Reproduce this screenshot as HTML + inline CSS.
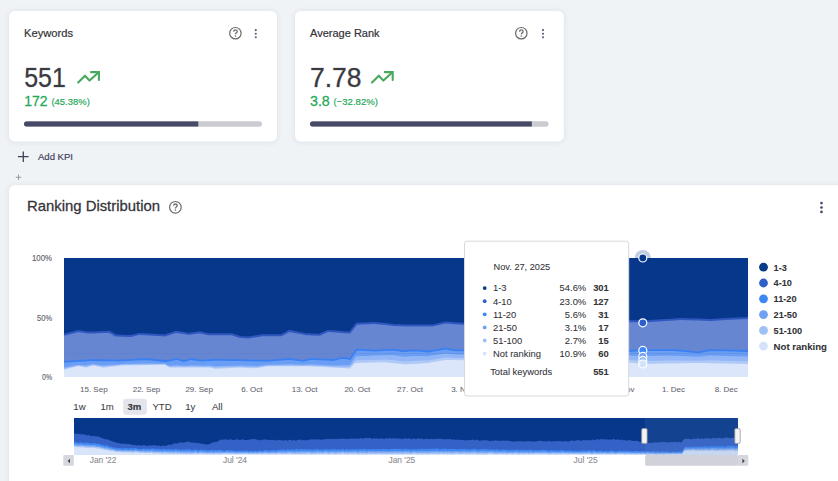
<!DOCTYPE html>
<html><head><meta charset="utf-8"><style>
html,body{margin:0;padding:0;background:#f0f3f6;overflow:hidden;width:838px;height:481px}
svg{display:block;font-family:"Liberation Sans", sans-serif}
</style></head><body>
<svg width="838" height="481" viewBox="0 0 838 481">
<defs><filter id="sh" x="-10%" y="-20%" width="120%" height="140%"><feDropShadow dx="0" dy="0.5" stdDeviation="2.5" flood-color="#3a4660" flood-opacity="0.13"/></filter>
<clipPath id="cb1"><rect x="24" y="121.2" width="238" height="5.5" rx="2.75"/></clipPath>
<clipPath id="cb2"><rect x="310" y="121.2" width="238.6" height="5.5" rx="2.75"/></clipPath></defs>
<rect width="838" height="481" fill="#f0f3f6"/>
<rect x="9" y="11" width="268" height="130.5" rx="6" fill="#fff" filter="url(#sh)"/>
<rect x="295" y="11" width="268.8" height="130.5" rx="6" fill="#fff" filter="url(#sh)"/>
<rect x="9" y="185.3" width="840" height="320" rx="6" fill="#fff" filter="url(#sh)"/>
<text x="24" y="36.8" font-size="10.8" fill="#333338" stroke="#333338" stroke-width="0.194" font-weight="400" text-anchor="start" textLength="49" lengthAdjust="spacingAndGlyphs" >Keywords</text>
<circle cx="235.4" cy="33.2" r="5.7" fill="none" stroke="#6a6a6a" stroke-width="1.2"/><path d="M233.70000000000002,31.700000000000003 Q233.70000000000002,29.900000000000002 235.4,29.900000000000002 Q237.20000000000002,29.900000000000002 237.20000000000002,31.500000000000004 Q237.20000000000002,32.6 236.1,33.1 Q235.4,33.5 235.4,34.300000000000004" fill="none" stroke="#6a6a6a" stroke-width="1.3"/><circle cx="235.4" cy="35.95" r="0.8" fill="#6a6a6a"/>
<circle cx="255.8" cy="30.1" r="1.05" fill="#58587a"/><circle cx="255.8" cy="33.7" r="1.05" fill="#58587a"/><circle cx="255.8" cy="37.300000000000004" r="1.05" fill="#58587a"/>
<text x="24.2" y="86.8" font-size="26.8" fill="#3a3a42" stroke="#3a3a42" stroke-width="0.482" font-weight="400" text-anchor="start" textLength="41.6" lengthAdjust="spacingAndGlyphs" stroke-opacity="0.6">551</text>
<g transform="translate(0.0,0)"><path d="M78.2,82.6 L85,75.7 L89.6,80.6 L98.4,72.4" fill="none" stroke="#48a85c" stroke-width="2.1" stroke-linecap="round" stroke-linejoin="round"/><path d="M91.0,72.1 L98.9,72.1 L98.9,80.0" fill="none" stroke="#48a85c" stroke-width="2.1" stroke-linecap="round" stroke-linejoin="miter"/></g>
<text x="24.2" y="105.9" font-size="14" fill="#24a857" stroke="#24a857" stroke-width="0.252" font-weight="400" text-anchor="start" textLength="23.3" lengthAdjust="spacingAndGlyphs" >172</text>
<text x="51.4" y="105.0" font-size="9.6" fill="#24a857" stroke="#24a857" stroke-width="0.173" font-weight="400" text-anchor="start" textLength="38.4" lengthAdjust="spacingAndGlyphs" >(45.38%)</text>
<rect x="24" y="121.2" width="238" height="5.5" rx="2.75" fill="#cbccd1"/>
<rect x="24" y="121.2" width="174.3" height="5.5" fill="#474a66" clip-path="url(#cb1)"/>
<text x="310" y="36.8" font-size="10.8" fill="#333338" stroke="#333338" stroke-width="0.194" font-weight="400" text-anchor="start" textLength="69.6" lengthAdjust="spacingAndGlyphs" >Average Rank</text>
<circle cx="521.3" cy="33.2" r="5.7" fill="none" stroke="#6a6a6a" stroke-width="1.2"/><path d="M519.5999999999999,31.700000000000003 Q519.5999999999999,29.900000000000002 521.3,29.900000000000002 Q523.0999999999999,29.900000000000002 523.0999999999999,31.500000000000004 Q523.0999999999999,32.6 522.0,33.1 Q521.3,33.5 521.3,34.300000000000004" fill="none" stroke="#6a6a6a" stroke-width="1.3"/><circle cx="521.3" cy="35.95" r="0.8" fill="#6a6a6a"/>
<circle cx="543" cy="30.1" r="1.05" fill="#58587a"/><circle cx="543" cy="33.7" r="1.05" fill="#58587a"/><circle cx="543" cy="37.300000000000004" r="1.05" fill="#58587a"/>
<text x="310" y="86.8" font-size="26.8" fill="#3a3a42" stroke="#3a3a42" stroke-width="0.482" font-weight="400" text-anchor="start" textLength="51.6" lengthAdjust="spacingAndGlyphs" stroke-opacity="0.6">7.78</text>
<g transform="translate(293.8,0)"><path d="M78.2,82.6 L85,75.7 L89.6,80.6 L98.4,72.4" fill="none" stroke="#48a85c" stroke-width="2.1" stroke-linecap="round" stroke-linejoin="round"/><path d="M91.0,72.1 L98.9,72.1 L98.9,80.0" fill="none" stroke="#48a85c" stroke-width="2.1" stroke-linecap="round" stroke-linejoin="miter"/></g>
<text x="310" y="105.9" font-size="14" fill="#24a857" stroke="#24a857" stroke-width="0.252" font-weight="400" text-anchor="start" textLength="19.8" lengthAdjust="spacingAndGlyphs" >3.8</text>
<text x="333.5" y="105.0" font-size="9.6" fill="#24a857" stroke="#24a857" stroke-width="0.173" font-weight="400" text-anchor="start" textLength="44.5" lengthAdjust="spacingAndGlyphs" >(−32.82%)</text>
<rect x="310" y="121.2" width="238.6" height="5.5" rx="2.75" fill="#cbccd1"/>
<rect x="310" y="121.2" width="221.8" height="5.5" fill="#474a66" clip-path="url(#cb2)"/>
<path d="M18,156.7 H28.6 M23.3,151.4 V162" stroke="#40405a" stroke-width="1.3"/>
<text x="38" y="160.2" font-size="9.6" fill="#40405a" stroke="#40405a" stroke-width="0.173" font-weight="400" text-anchor="start" textLength="35" lengthAdjust="spacingAndGlyphs" >Add KPI</text>
<path d="M15.8,177.3 H21.2 M18.5,174.6 V180" stroke="#888" stroke-width="0.8"/>
<text x="27" y="210.9" font-size="15" fill="#333338" stroke="#333338" stroke-width="0.27" font-weight="400" text-anchor="start" textLength="133" lengthAdjust="spacingAndGlyphs" >Ranking Distribution</text>
<circle cx="175.4" cy="207.3" r="5.8" fill="none" stroke="#6a6a6a" stroke-width="1.2"/><path d="M173.70000000000002,205.8 Q173.70000000000002,204.0 175.4,204.0 Q177.20000000000002,204.0 177.20000000000002,205.60000000000002 Q177.20000000000002,206.70000000000002 176.1,207.20000000000002 Q175.4,207.60000000000002 175.4,208.4" fill="none" stroke="#6a6a6a" stroke-width="1.3"/><circle cx="175.4" cy="210.05" r="0.8" fill="#6a6a6a"/>
<circle cx="821.5" cy="203.1" r="1.35" fill="#48486c"/><circle cx="821.5" cy="207.5" r="1.35" fill="#48486c"/><circle cx="821.5" cy="211.9" r="1.35" fill="#48486c"/>
<text x="52.1" y="261.2" font-size="8.6" fill="#666670" stroke="#666670" stroke-width="0.155" font-weight="400" text-anchor="end" textLength="20.1" lengthAdjust="spacingAndGlyphs" >100%</text>
<text x="52.1" y="321.3" font-size="8.6" fill="#666670" stroke="#666670" stroke-width="0.155" font-weight="400" text-anchor="end" textLength="15" lengthAdjust="spacingAndGlyphs" >50%</text>
<text x="52.1" y="379.8" font-size="8.6" fill="#666670" stroke="#666670" stroke-width="0.155" font-weight="400" text-anchor="end" textLength="10" lengthAdjust="spacingAndGlyphs" >0%</text>
<rect x="64" y="258" width="684" height="119" fill="#06378a"/>
<path d="M64.00,334.80 L78.30,331.10 L85.80,332.26 L88.00,332.60 L92.00,332.45 L93.30,332.40 L103.00,332.04 L109.40,331.80 L115.80,335.40 L118.00,335.49 L122.00,335.65 L130.90,336.00 L139.50,333.90 L146.00,334.28 L165.00,335.39 L165.20,335.40 L167.00,334.80 L169.50,333.97 L176.00,331.80 L177.00,331.96 L184.00,333.10 L188.90,333.90 L191.00,333.57 L199.60,332.20 L202.00,332.79 L208.20,334.30 L210.00,334.30 L214.60,334.30 L215.00,334.30 L231.80,334.30 L240.00,336.90 L248.20,337.50 L256.50,336.18 L262.00,335.30 L267.40,335.30 L281.20,335.30 L289.40,330.90 L303.10,333.64 L305.90,334.20 L308.60,334.30 L311.40,334.40 L319.60,334.70 L327.80,330.90 L333.30,331.30 L341.60,331.90 L345.00,332.15 L349.80,332.50 L350.00,332.24 L355.00,325.87 L356.50,323.96 L356.70,323.70 L373.60,322.94 L374.50,322.90 L385.00,324.10 L393.70,325.10 L402.30,325.36 L405.00,325.44 L410.20,325.60 L416.60,325.60 L428.00,325.60 L432.20,325.60 L445.30,322.54 L445.90,322.40 L455.30,323.15 L462.30,323.70 L464.00,323.66 L540.00,322.00 L629.00,320.90 L642.60,321.50 L665.30,320.00 L674.30,319.40 L680.00,319.02 L680.30,319.00 L698.50,319.60 L710.50,320.00 L725.60,319.00 L748.00,317.90 L748.00,377.00 L64.00,377.00 Z" fill="#6686d2" />
<path d="M64.00,361.80 L78.30,360.93 L85.80,360.48 L88.00,360.34 L92.00,360.10 L93.30,360.12 L103.00,360.27 L109.40,360.37 L115.80,360.47 L118.00,360.50 L122.00,360.29 L130.90,359.81 L139.50,359.35 L146.00,359.00 L165.00,360.99 L165.20,361.01 L167.00,361.20 L169.50,360.65 L176.00,359.22 L177.00,359.00 L184.00,361.20 L188.90,359.66 L191.00,359.00 L199.60,360.33 L202.00,360.70 L208.20,360.22 L210.00,360.08 L214.60,359.73 L215.00,359.70 L231.80,360.04 L240.00,360.20 L248.20,360.38 L256.50,360.56 L262.00,360.68 L267.40,360.80 L281.20,359.61 L289.40,358.90 L303.10,360.80 L305.90,360.16 L308.60,359.54 L311.40,358.90 L319.60,359.31 L327.80,359.72 L333.30,360.00 L341.60,358.00 L345.00,357.90 L349.80,359.24 L350.00,359.30 L355.00,351.92 L356.50,349.70 L356.70,349.71 L373.60,350.70 L374.50,350.66 L385.00,350.13 L393.70,349.70 L402.30,351.20 L405.00,351.03 L410.20,350.70 L416.60,350.30 L428.00,351.50 L432.20,350.80 L445.30,348.60 L445.90,348.70 L455.30,350.30 L462.30,350.30 L464.00,350.30 L540.00,350.62 L629.00,351.00 L642.60,350.10 L665.30,350.10 L674.30,350.10 L680.00,350.62 L680.30,350.65 L698.50,352.30 L710.50,350.10 L725.60,350.46 L748.00,351.00 L748.00,377.00 L64.00,377.00 Z" fill="#6a9ef4" />
<path d="M64.00,367.56 L78.30,364.65 L85.80,365.61 L88.00,365.12 L92.00,364.25 L93.30,363.99 L103.00,365.55 L109.40,365.07 L115.80,364.58 L118.00,364.42 L122.00,364.04 L130.90,363.80 L139.50,363.57 L146.00,363.40 L165.00,363.73 L165.20,363.83 L167.00,364.69 L169.50,365.65 L176.00,365.25 L177.00,365.19 L184.00,365.81 L188.90,365.38 L191.00,365.19 L199.60,365.56 L202.00,365.67 L208.20,365.53 L210.00,365.50 L214.60,366.19 L215.00,366.17 L231.80,365.74 L240.00,365.53 L248.20,365.79 L256.50,366.06 L262.00,365.40 L267.40,364.76 L281.20,364.43 L289.40,364.23 L303.10,364.76 L305.90,364.58 L308.60,364.41 L311.40,364.33 L319.60,364.75 L327.80,365.16 L333.30,365.44 L341.60,365.19 L345.00,365.28 L349.80,364.96 L350.00,364.81 L355.00,357.68 L356.50,356.20 L356.70,356.15 L373.60,355.66 L374.50,355.62 L385.00,355.20 L393.70,355.35 L402.30,356.62 L405.00,356.65 L410.20,356.32 L416.60,355.93 L428.00,356.33 L432.20,355.62 L445.30,353.39 L445.90,353.45 L455.30,354.42 L462.30,354.46 L464.00,354.47 L540.00,355.10 L629.00,355.83 L642.60,355.94 L665.30,355.76 L674.30,355.69 L680.00,355.94 L680.30,355.96 L698.50,356.79 L710.50,355.62 L725.60,355.96 L748.00,356.46 L748.00,377.00 L64.00,377.00 Z" fill="#92b6f6" />
<path d="M64.00,368.84 L78.30,365.48 L85.80,366.75 L88.00,366.19 L92.00,365.17 L93.30,364.85 L103.00,366.72 L109.40,366.11 L115.80,365.50 L118.00,365.29 L122.00,364.87 L130.90,364.69 L139.50,364.51 L146.00,364.38 L165.00,364.34 L165.20,364.45 L167.00,365.46 L169.50,366.77 L176.00,366.59 L177.00,366.57 L184.00,366.83 L188.90,366.65 L191.00,366.57 L199.60,366.73 L202.00,366.77 L208.20,366.71 L210.00,366.70 L214.60,367.62 L215.00,367.60 L231.80,367.00 L240.00,366.71 L248.20,367.00 L256.50,367.28 L262.00,366.45 L267.40,365.64 L281.20,365.50 L289.40,365.41 L303.10,365.64 L305.90,365.56 L308.60,365.49 L311.40,365.54 L319.60,365.95 L327.80,366.37 L333.30,366.65 L341.60,366.78 L345.00,366.92 L349.80,367.01 L350.00,366.83 L355.00,360.93 L356.50,360.35 L356.70,360.33 L373.60,359.91 L374.50,359.88 L385.00,359.55 L393.70,360.20 L402.30,361.26 L405.00,361.46 L410.20,361.14 L416.60,360.75 L428.00,360.47 L432.20,359.75 L445.30,357.49 L445.90,357.52 L455.30,357.96 L462.30,358.02 L464.00,358.04 L540.00,358.93 L629.00,359.97 L642.60,360.94 L665.30,360.61 L674.30,360.48 L680.00,360.51 L680.30,360.51 L698.50,360.65 L710.50,360.35 L725.60,360.67 L748.00,361.14 L748.00,377.00 L64.00,377.00 Z" fill="#b0caf7" />
<path d="M64.00,369.80 L78.30,366.10 L85.80,367.60 L88.00,366.98 L92.00,365.86 L93.30,365.50 L103.00,367.60 L109.40,366.89 L115.80,366.19 L118.00,365.94 L122.00,365.50 L130.90,365.36 L139.50,365.22 L146.00,365.11 L165.00,364.80 L165.20,364.92 L167.00,366.04 L169.50,367.60 L176.00,367.60 L177.00,367.60 L184.00,367.60 L188.90,367.60 L191.00,367.60 L199.60,367.60 L202.00,367.60 L208.20,367.60 L210.00,367.60 L214.60,368.70 L215.00,368.68 L231.80,367.96 L240.00,367.60 L248.20,367.90 L256.50,368.20 L262.00,367.24 L267.40,366.30 L281.20,366.30 L289.40,366.30 L303.10,366.30 L305.90,366.30 L308.60,366.30 L311.40,366.44 L319.60,366.86 L327.80,367.28 L333.30,367.56 L341.60,367.98 L345.00,368.16 L349.80,368.40 L350.00,368.19 L355.00,363.00 L356.50,362.96 L356.70,362.95 L373.60,362.50 L374.50,362.48 L385.00,362.20 L393.70,363.16 L402.30,364.10 L405.00,364.40 L410.20,364.08 L416.60,363.69 L428.00,363.00 L432.20,362.27 L445.30,360.00 L445.90,360.01 L455.30,360.12 L462.30,360.20 L464.00,360.22 L540.00,361.27 L629.00,362.50 L642.60,364.00 L665.30,363.58 L674.30,363.41 L680.00,363.30 L680.30,363.30 L698.50,363.00 L710.50,363.24 L725.60,363.55 L748.00,364.00 L748.00,377.00 L64.00,377.00 Z" fill="#dbe6fb" />
<line x1="64" x2="748" y1="353.5" y2="353.5" stroke="#5a78c0" stroke-width="0.6" opacity="0.5"/>
<path d="M64.00,334.80 L78.30,331.10 L85.80,332.26 L88.00,332.60 L92.00,332.45 L93.30,332.40 L103.00,332.04 L109.40,331.80 L115.80,335.40 L118.00,335.49 L122.00,335.65 L130.90,336.00 L139.50,333.90 L146.00,334.28 L165.00,335.39 L165.20,335.40 L167.00,334.80 L169.50,333.97 L176.00,331.80 L177.00,331.96 L184.00,333.10 L188.90,333.90 L191.00,333.57 L199.60,332.20 L202.00,332.79 L208.20,334.30 L210.00,334.30 L214.60,334.30 L215.00,334.30 L231.80,334.30 L240.00,336.90 L248.20,337.50 L256.50,336.18 L262.00,335.30 L267.40,335.30 L281.20,335.30 L289.40,330.90 L303.10,333.64 L305.90,334.20 L308.60,334.30 L311.40,334.40 L319.60,334.70 L327.80,330.90 L333.30,331.30 L341.60,331.90 L345.00,332.15 L349.80,332.50 L350.00,332.24 L355.00,325.87 L356.50,323.96 L356.70,323.70 L373.60,322.94 L374.50,322.90 L385.00,324.10 L393.70,325.10 L402.30,325.36 L405.00,325.44 L410.20,325.60 L416.60,325.60 L428.00,325.60 L432.20,325.60 L445.30,322.54 L445.90,322.40 L455.30,323.15 L462.30,323.70 L464.00,323.66 L540.00,322.00 L629.00,320.90 L642.60,321.50 L665.30,320.00 L674.30,319.40 L680.00,319.02 L680.30,319.00 L698.50,319.60 L710.50,320.00 L725.60,319.00 L748.00,317.90" fill="none" stroke="#2f57bf" stroke-width="2"/>
<path d="M64.00,361.80 L78.30,360.93 L85.80,360.48 L88.00,360.34 L92.00,360.10 L93.30,360.12 L103.00,360.27 L109.40,360.37 L115.80,360.47 L118.00,360.50 L122.00,360.29 L130.90,359.81 L139.50,359.35 L146.00,359.00 L165.00,360.99 L165.20,361.01 L167.00,361.20 L169.50,360.65 L176.00,359.22 L177.00,359.00 L184.00,361.20 L188.90,359.66 L191.00,359.00 L199.60,360.33 L202.00,360.70 L208.20,360.22 L210.00,360.08 L214.60,359.73 L215.00,359.70 L231.80,360.04 L240.00,360.20 L248.20,360.38 L256.50,360.56 L262.00,360.68 L267.40,360.80 L281.20,359.61 L289.40,358.90 L303.10,360.80 L305.90,360.16 L308.60,359.54 L311.40,358.90 L319.60,359.31 L327.80,359.72 L333.30,360.00 L341.60,358.00 L345.00,357.90 L349.80,359.24 L350.00,359.30 L355.00,351.92 L356.50,349.70 L356.70,349.71 L373.60,350.70 L374.50,350.66 L385.00,350.13 L393.70,349.70 L402.30,351.20 L405.00,351.03 L410.20,350.70 L416.60,350.30 L428.00,351.50 L432.20,350.80 L445.30,348.60 L445.90,348.70 L455.30,350.30 L462.30,350.30 L464.00,350.30 L540.00,350.62 L629.00,351.00 L642.60,350.10 L665.30,350.10 L674.30,350.10 L680.00,350.62 L680.30,350.65 L698.50,352.30 L710.50,350.10 L725.60,350.46 L748.00,351.00" fill="none" stroke="#3a80f2" stroke-width="1.8"/>
<text x="93.8" y="391.9" font-size="8" fill="#666670" stroke="#666670" stroke-width="0.144" font-weight="400" text-anchor="middle" stroke-opacity="0.5">15. Sep</text>
<text x="146.5" y="391.9" font-size="8" fill="#666670" stroke="#666670" stroke-width="0.144" font-weight="400" text-anchor="middle" stroke-opacity="0.5">22. Sep</text>
<text x="199.2" y="391.9" font-size="8" fill="#666670" stroke="#666670" stroke-width="0.144" font-weight="400" text-anchor="middle" stroke-opacity="0.5">29. Sep</text>
<text x="251.9" y="391.9" font-size="8" fill="#666670" stroke="#666670" stroke-width="0.144" font-weight="400" text-anchor="middle" stroke-opacity="0.5">6. Oct</text>
<text x="304.6" y="391.9" font-size="8" fill="#666670" stroke="#666670" stroke-width="0.144" font-weight="400" text-anchor="middle" stroke-opacity="0.5">13. Oct</text>
<text x="357.3" y="391.9" font-size="8" fill="#666670" stroke="#666670" stroke-width="0.144" font-weight="400" text-anchor="middle" stroke-opacity="0.5">20. Oct</text>
<text x="410.0" y="391.9" font-size="8" fill="#666670" stroke="#666670" stroke-width="0.144" font-weight="400" text-anchor="middle" stroke-opacity="0.5">27. Oct</text>
<text x="462.7" y="391.9" font-size="8" fill="#666670" stroke="#666670" stroke-width="0.144" font-weight="400" text-anchor="middle" stroke-opacity="0.5">3. Nov</text>
<text x="515.4" y="391.9" font-size="8" fill="#666670" stroke="#666670" stroke-width="0.144" font-weight="400" text-anchor="middle" stroke-opacity="0.5">10. Nov</text>
<text x="568.1" y="391.9" font-size="8" fill="#666670" stroke="#666670" stroke-width="0.144" font-weight="400" text-anchor="middle" stroke-opacity="0.5">17. Nov</text>
<text x="620.8" y="391.9" font-size="8" fill="#666670" stroke="#666670" stroke-width="0.144" font-weight="400" text-anchor="middle" stroke-opacity="0.5">24. Nov</text>
<text x="673.5" y="391.9" font-size="8" fill="#666670" stroke="#666670" stroke-width="0.144" font-weight="400" text-anchor="middle" stroke-opacity="0.5">1. Dec</text>
<text x="726.2" y="391.9" font-size="8" fill="#666670" stroke="#666670" stroke-width="0.144" font-weight="400" text-anchor="middle" stroke-opacity="0.5">8. Dec</text>
<circle cx="642.8" cy="258" r="8" fill="#06378a" opacity="0.25"/>
<circle cx="642.8" cy="258" r="4" fill="#06378a" stroke="#fff" stroke-width="1.2"/>
<circle cx="642.8" cy="322.8" r="4" fill="#2e5ec9" stroke="#fff" stroke-width="1.2"/>
<circle cx="642.8" cy="350.4" r="4" fill="#3d86f5" stroke="#fff" stroke-width="1.2"/>
<circle cx="642.8" cy="356.4" r="4" fill="#6fa0f3" stroke="#fff" stroke-width="1.2"/>
<circle cx="642.8" cy="360.4" r="4" fill="#9dc0f5" stroke="#fff" stroke-width="1.2"/>
<circle cx="642.8" cy="364.0" r="4" fill="#d5e3fa" stroke="#fff" stroke-width="1.2"/>
<circle cx="763.5" cy="267.2" r="4.4" fill="#0a3a8a"/>
<text x="773.6" y="270.5" font-size="9.2" fill="#333338" stroke="#333338" stroke-width="0.074" font-weight="700" text-anchor="start" >1-3</text>
<circle cx="763.5" cy="283.0" r="4.4" fill="#2e5ec9"/>
<text x="773.6" y="286.3" font-size="9.2" fill="#333338" stroke="#333338" stroke-width="0.074" font-weight="700" text-anchor="start" >4-10</text>
<circle cx="763.5" cy="298.8" r="4.4" fill="#3d86f5"/>
<text x="773.6" y="302.1" font-size="9.2" fill="#333338" stroke="#333338" stroke-width="0.074" font-weight="700" text-anchor="start" >11-20</text>
<circle cx="763.5" cy="314.6" r="4.4" fill="#6fa0f2"/>
<text x="773.6" y="317.90000000000003" font-size="9.2" fill="#333338" stroke="#333338" stroke-width="0.074" font-weight="700" text-anchor="start" >21-50</text>
<circle cx="763.5" cy="330.4" r="4.4" fill="#9dc0f5"/>
<text x="773.6" y="333.7" font-size="9.2" fill="#333338" stroke="#333338" stroke-width="0.074" font-weight="700" text-anchor="start" >51-100</text>
<circle cx="763.5" cy="346.2" r="4.4" fill="#d5e3fa"/>
<text x="773.6" y="349.5" font-size="9.2" fill="#333338" stroke="#333338" stroke-width="0.074" font-weight="700" text-anchor="start" textLength="53.4" lengthAdjust="spacingAndGlyphs" >Not ranking</text>
<rect x="464.5" y="241.2" width="164.2" height="154.8" rx="2.5" fill="#fff" stroke="#d8d8e0" stroke-width="1"/>
<text x="493.6" y="269.8" font-size="9.4" fill="#333338" stroke="#333338" stroke-width="0.169" font-weight="400" text-anchor="start" textLength="56.6" lengthAdjust="spacingAndGlyphs" stroke-opacity="0.45">Nov. 27, 2025</text>
<circle cx="484.7" cy="288.1" r="1.9" fill="#0a3a8a"/>
<text x="493" y="291.40000000000003" font-size="9.4" fill="#333338" stroke="#333338" stroke-width="0.169" font-weight="400" text-anchor="start" stroke-opacity="0.45">1-3</text>
<text x="586.2" y="291.40000000000003" font-size="9.4" fill="#333338" stroke="#333338" stroke-width="0.169" font-weight="400" text-anchor="end" stroke-opacity="0.45">54.6%</text>
<text x="608.8" y="291.40000000000003" font-size="9.4" fill="#333338" stroke="#333338" stroke-width="0.075" font-weight="700" text-anchor="end" >301</text>
<circle cx="484.7" cy="301.20000000000005" r="1.9" fill="#2e5ec9"/>
<text x="493" y="304.50000000000006" font-size="9.4" fill="#333338" stroke="#333338" stroke-width="0.169" font-weight="400" text-anchor="start" stroke-opacity="0.45">4-10</text>
<text x="586.2" y="304.50000000000006" font-size="9.4" fill="#333338" stroke="#333338" stroke-width="0.169" font-weight="400" text-anchor="end" stroke-opacity="0.45">23.0%</text>
<text x="608.8" y="304.50000000000006" font-size="9.4" fill="#333338" stroke="#333338" stroke-width="0.075" font-weight="700" text-anchor="end" >127</text>
<circle cx="484.7" cy="314.3" r="1.9" fill="#3d86f5"/>
<text x="493" y="317.6" font-size="9.4" fill="#333338" stroke="#333338" stroke-width="0.169" font-weight="400" text-anchor="start" stroke-opacity="0.45">11-20</text>
<text x="586.2" y="317.6" font-size="9.4" fill="#333338" stroke="#333338" stroke-width="0.169" font-weight="400" text-anchor="end" stroke-opacity="0.45">5.6%</text>
<text x="608.8" y="317.6" font-size="9.4" fill="#333338" stroke="#333338" stroke-width="0.075" font-weight="700" text-anchor="end" >31</text>
<circle cx="484.7" cy="327.40000000000003" r="1.9" fill="#6fa0f2"/>
<text x="493" y="330.70000000000005" font-size="9.4" fill="#333338" stroke="#333338" stroke-width="0.169" font-weight="400" text-anchor="start" stroke-opacity="0.45">21-50</text>
<text x="586.2" y="330.70000000000005" font-size="9.4" fill="#333338" stroke="#333338" stroke-width="0.169" font-weight="400" text-anchor="end" stroke-opacity="0.45">3.1%</text>
<text x="608.8" y="330.70000000000005" font-size="9.4" fill="#333338" stroke="#333338" stroke-width="0.075" font-weight="700" text-anchor="end" >17</text>
<circle cx="484.7" cy="340.5" r="1.9" fill="#9dc0f5"/>
<text x="493" y="343.8" font-size="9.4" fill="#333338" stroke="#333338" stroke-width="0.169" font-weight="400" text-anchor="start" stroke-opacity="0.45">51-100</text>
<text x="586.2" y="343.8" font-size="9.4" fill="#333338" stroke="#333338" stroke-width="0.169" font-weight="400" text-anchor="end" stroke-opacity="0.45">2.7%</text>
<text x="608.8" y="343.8" font-size="9.4" fill="#333338" stroke="#333338" stroke-width="0.075" font-weight="700" text-anchor="end" >15</text>
<circle cx="484.7" cy="353.6" r="1.9" fill="#d5e3fa"/>
<text x="493" y="356.90000000000003" font-size="9.4" fill="#333338" stroke="#333338" stroke-width="0.169" font-weight="400" text-anchor="start" stroke-opacity="0.45">Not ranking</text>
<text x="586.2" y="356.90000000000003" font-size="9.4" fill="#333338" stroke="#333338" stroke-width="0.169" font-weight="400" text-anchor="end" stroke-opacity="0.45">10.9%</text>
<text x="608.8" y="356.90000000000003" font-size="9.4" fill="#333338" stroke="#333338" stroke-width="0.075" font-weight="700" text-anchor="end" >60</text>
<text x="490.2" y="374.7" font-size="9.4" fill="#333338" stroke="#333338" stroke-width="0.169" font-weight="400" text-anchor="start" stroke-opacity="0.45">Total keywords</text>
<text x="608.8" y="374.7" font-size="9.4" fill="#333338" stroke="#333338" stroke-width="0.075" font-weight="700" text-anchor="end" >551</text>
<rect x="123.2" y="398.8" width="23.6" height="15.9" rx="3" fill="#e4e4ec"/>
<text x="79.5" y="410.1" font-size="9.6" fill="#3c3c44" stroke="#3c3c44" stroke-width="0.173" font-weight="400" text-anchor="middle" stroke-opacity="0.35">1w</text>
<text x="107.1" y="410.1" font-size="9.6" fill="#3c3c44" stroke="#3c3c44" stroke-width="0.173" font-weight="400" text-anchor="middle" stroke-opacity="0.35">1m</text>
<text x="134.4" y="410.1" font-size="9.6" fill="#333338" stroke="#333338" stroke-width="0.077" font-weight="700" text-anchor="middle" >3m</text>
<text x="162" y="410.1" font-size="9.6" fill="#3c3c44" stroke="#3c3c44" stroke-width="0.173" font-weight="400" text-anchor="middle" stroke-opacity="0.35">YTD</text>
<text x="190.2" y="410.1" font-size="9.6" fill="#3c3c44" stroke="#3c3c44" stroke-width="0.173" font-weight="400" text-anchor="middle" stroke-opacity="0.35">1y</text>
<text x="217.3" y="410.1" font-size="9.6" fill="#3c3c44" stroke="#3c3c44" stroke-width="0.173" font-weight="400" text-anchor="middle" stroke-opacity="0.35">All</text>
<rect x="74" y="418" width="664" height="37" fill="#06378a"/>
<path d="M74.00,433.49 L75.00,433.40 L76.00,434.11 L77.00,433.54 L78.00,434.21 L79.00,434.12 L80.00,433.87 L81.00,434.53 L82.00,434.08 L83.00,434.67 L84.00,434.35 L85.00,434.49 L86.00,435.01 L87.00,435.61 L88.00,434.88 L89.00,435.12 L90.00,435.72 L91.00,436.22 L92.00,435.89 L93.00,435.79 L94.00,436.60 L95.00,435.60 L96.00,436.70 L97.00,436.27 L98.00,436.41 L99.00,436.69 L100.00,437.23 L101.00,438.16 L102.00,437.71 L103.00,438.50 L104.00,438.89 L105.00,438.88 L106.00,439.41 L107.00,439.14 L108.00,439.45 L109.00,439.94 L110.00,440.82 L111.00,440.83 L112.00,441.01 L113.00,441.65 L114.00,441.81 L115.00,441.94 L116.00,442.84 L117.00,443.04 L118.00,442.67 L119.00,443.18 L120.00,443.24 L121.00,443.77 L122.00,443.71 L123.00,443.30 L124.00,444.25 L125.00,443.33 L126.00,443.80 L127.00,444.32 L128.00,443.71 L129.00,444.23 L130.00,443.80 L131.00,444.67 L132.00,444.90 L133.00,444.79 L134.00,445.27 L135.00,444.71 L136.00,445.25 L137.00,445.17 L138.00,445.19 L139.00,445.08 L140.00,445.58 L141.00,445.74 L142.00,445.21 L143.00,445.48 L144.00,444.79 L145.00,445.60 L146.00,445.57 L147.00,446.03 L148.00,445.86 L149.00,445.25 L150.00,445.41 L151.00,445.79 L152.00,445.05 L153.00,445.62 L154.00,445.30 L155.00,445.28 L156.00,445.25 L157.00,446.14 L158.00,445.41 L159.00,445.59 L160.00,445.80 L161.00,446.41 L162.00,445.48 L163.00,445.75 L164.00,445.71 L165.00,445.94 L166.00,445.69 L167.00,445.58 L168.00,444.71 L169.00,444.71 L170.00,444.47 L171.00,444.93 L172.00,444.85 L173.00,443.72 L174.00,443.58 L175.00,443.48 L176.00,443.31 L177.00,443.45 L178.00,443.40 L179.00,442.84 L180.00,442.37 L181.00,442.70 L182.00,442.47 L183.00,442.54 L184.00,442.83 L185.00,442.35 L186.00,441.97 L187.00,441.93 L188.00,441.83 L189.00,441.23 L190.00,442.43 L191.00,442.47 L192.00,442.77 L193.00,442.86 L194.00,442.56 L195.00,442.75 L196.00,442.58 L197.00,443.41 L198.00,442.90 L199.00,443.09 L200.00,443.45 L201.00,443.58 L202.00,443.98 L203.00,443.82 L204.00,443.94 L205.00,444.30 L206.00,444.43 L207.00,444.67 L208.00,443.93 L209.00,444.61 L210.00,443.96 L211.00,443.07 L212.00,442.86 L213.00,442.64 L214.00,442.32 L215.00,441.70 L216.00,442.23 L217.00,442.07 L218.00,441.10 L219.00,440.79 L220.00,439.97 L221.00,439.66 L222.00,439.61 L223.00,439.41 L224.00,440.08 L225.00,439.28 L226.00,439.10 L227.00,440.21 L228.00,439.70 L229.00,439.23 L230.00,439.70 L231.00,439.08 L232.00,439.67 L233.00,440.21 L234.00,440.06 L235.00,439.85 L236.00,439.33 L237.00,439.45 L238.00,439.20 L239.00,439.92 L240.00,439.63 L241.00,439.92 L242.00,439.37 L243.00,439.24 L244.00,439.94 L245.00,440.14 L246.00,439.97 L247.00,439.91 L248.00,439.92 L249.00,439.82 L250.00,439.20 L251.00,439.54 L252.00,439.34 L253.00,438.94 L254.00,438.94 L255.00,439.26 L256.00,439.26 L257.00,439.80 L258.00,440.14 L259.00,439.55 L260.00,440.16 L261.00,440.24 L262.00,440.23 L263.00,439.54 L264.00,439.39 L265.00,439.42 L266.00,439.41 L267.00,439.44 L268.00,439.96 L269.00,440.32 L270.00,440.27 L271.00,439.86 L272.00,440.09 L273.00,440.28 L274.00,439.45 L275.00,440.16 L276.00,440.48 L277.00,440.35 L278.00,440.33 L279.00,440.03 L280.00,439.69 L281.00,440.45 L282.00,439.92 L283.00,440.51 L284.00,440.73 L285.00,440.06 L286.00,440.09 L287.00,440.77 L288.00,440.53 L289.00,439.88 L290.00,439.85 L291.00,439.85 L292.00,440.73 L293.00,440.58 L294.00,439.76 L295.00,440.55 L296.00,440.70 L297.00,440.29 L298.00,439.89 L299.00,440.10 L300.00,439.57 L301.00,439.40 L302.00,440.52 L303.00,440.11 L304.00,439.93 L305.00,440.39 L306.00,439.76 L307.00,440.26 L308.00,440.18 L309.00,439.41 L310.00,439.43 L311.00,439.45 L312.00,439.36 L313.00,439.75 L314.00,439.33 L315.00,439.49 L316.00,439.11 L317.00,440.02 L318.00,439.32 L319.00,439.42 L320.00,439.54 L321.00,439.90 L322.00,439.29 L323.00,439.86 L324.00,439.33 L325.00,439.34 L326.00,439.30 L327.00,438.67 L328.00,439.14 L329.00,438.81 L330.00,438.56 L331.00,439.49 L332.00,438.71 L333.00,439.04 L334.00,439.31 L335.00,439.08 L336.00,438.78 L337.00,438.98 L338.00,439.00 L339.00,439.24 L340.00,438.40 L341.00,438.92 L342.00,438.51 L343.00,438.52 L344.00,439.08 L345.00,438.74 L346.00,438.77 L347.00,438.98 L348.00,439.14 L349.00,438.55 L350.00,438.72 L351.00,438.56 L352.00,438.54 L353.00,438.73 L354.00,438.41 L355.00,438.48 L356.00,438.39 L357.00,438.92 L358.00,438.60 L359.00,438.78 L360.00,438.83 L361.00,437.98 L362.00,438.31 L363.00,438.75 L364.00,438.61 L365.00,437.78 L366.00,437.78 L367.00,438.17 L368.00,437.74 L369.00,437.95 L370.00,437.76 L371.00,438.49 L372.00,438.64 L373.00,438.79 L374.00,437.91 L375.00,438.59 L376.00,438.54 L377.00,437.93 L378.00,438.83 L379.00,438.94 L380.00,438.06 L381.00,438.95 L382.00,438.29 L383.00,438.41 L384.00,439.03 L385.00,438.85 L386.00,438.06 L387.00,438.39 L388.00,438.51 L389.00,438.31 L390.00,438.15 L391.00,438.30 L392.00,438.80 L393.00,437.97 L394.00,438.62 L395.00,438.50 L396.00,438.00 L397.00,438.39 L398.00,438.75 L399.00,438.63 L400.00,438.10 L401.00,439.22 L402.00,439.00 L403.00,439.23 L404.00,438.20 L405.00,438.40 L406.00,438.15 L407.00,439.04 L408.00,438.45 L409.00,438.29 L410.00,438.65 L411.00,439.25 L412.00,439.15 L413.00,438.49 L414.00,438.37 L415.00,439.31 L416.00,438.90 L417.00,439.07 L418.00,438.35 L419.00,438.32 L420.00,439.09 L421.00,438.78 L422.00,438.37 L423.00,439.42 L424.00,439.07 L425.00,439.28 L426.00,438.43 L427.00,439.37 L428.00,438.44 L429.00,439.40 L430.00,438.92 L431.00,438.80 L432.00,439.07 L433.00,439.55 L434.00,438.78 L435.00,438.65 L436.00,439.15 L437.00,438.83 L438.00,438.71 L439.00,438.80 L440.00,438.69 L441.00,438.90 L442.00,439.06 L443.00,439.08 L444.00,439.65 L445.00,439.12 L446.00,439.40 L447.00,439.04 L448.00,439.27 L449.00,438.91 L450.00,439.21 L451.00,438.96 L452.00,439.85 L453.00,439.66 L454.00,439.25 L455.00,439.62 L456.00,440.20 L457.00,439.24 L458.00,440.12 L459.00,439.68 L460.00,439.79 L461.00,440.22 L462.00,439.72 L463.00,439.89 L464.00,440.13 L465.00,440.51 L466.00,439.77 L467.00,440.39 L468.00,440.27 L469.00,440.21 L470.00,439.96 L471.00,439.92 L472.00,439.60 L473.00,439.71 L474.00,439.67 L475.00,440.50 L476.00,439.95 L477.00,439.87 L478.00,439.80 L479.00,440.74 L480.00,440.80 L481.00,440.59 L482.00,440.15 L483.00,440.13 L484.00,440.22 L485.00,440.45 L486.00,440.11 L487.00,440.49 L488.00,440.30 L489.00,441.16 L490.00,441.20 L491.00,440.72 L492.00,440.39 L493.00,441.28 L494.00,440.52 L495.00,440.61 L496.00,440.21 L497.00,440.69 L498.00,440.83 L499.00,440.89 L500.00,440.56 L501.00,440.95 L502.00,440.38 L503.00,440.72 L504.00,440.54 L505.00,440.94 L506.00,440.54 L507.00,440.54 L508.00,440.91 L509.00,440.85 L510.00,441.30 L511.00,441.24 L512.00,441.50 L513.00,441.39 L514.00,441.46 L515.00,441.65 L516.00,441.07 L517.00,440.99 L518.00,441.78 L519.00,440.78 L520.00,441.47 L521.00,441.37 L522.00,440.65 L523.00,441.60 L524.00,441.67 L525.00,441.35 L526.00,441.48 L527.00,441.57 L528.00,440.77 L529.00,441.23 L530.00,441.21 L531.00,441.60 L532.00,441.57 L533.00,441.59 L534.00,441.30 L535.00,441.67 L536.00,441.42 L537.00,441.43 L538.00,440.88 L539.00,440.64 L540.00,440.76 L541.00,441.03 L542.00,440.73 L543.00,441.60 L544.00,441.27 L545.00,441.35 L546.00,441.35 L547.00,441.42 L548.00,441.19 L549.00,440.60 L550.00,441.56 L551.00,441.50 L552.00,441.20 L553.00,441.24 L554.00,441.39 L555.00,440.68 L556.00,441.48 L557.00,440.90 L558.00,440.69 L559.00,440.92 L560.00,441.48 L561.00,440.85 L562.00,441.49 L563.00,441.77 L564.00,441.19 L565.00,441.06 L566.00,441.17 L567.00,441.42 L568.00,441.48 L569.00,441.25 L570.00,441.23 L571.00,440.49 L572.00,440.52 L573.00,440.60 L574.00,441.13 L575.00,440.55 L576.00,440.81 L577.00,440.09 L578.00,440.10 L579.00,440.29 L580.00,440.72 L581.00,440.69 L582.00,440.62 L583.00,440.10 L584.00,440.32 L585.00,440.21 L586.00,440.15 L587.00,439.68 L588.00,440.56 L589.00,439.67 L590.00,440.55 L591.00,440.45 L592.00,439.29 L593.00,439.77 L594.00,440.15 L595.00,440.27 L596.00,439.60 L597.00,439.33 L598.00,439.20 L599.00,440.03 L600.00,439.09 L601.00,439.49 L602.00,438.90 L603.00,439.31 L604.00,439.77 L605.00,438.78 L606.00,439.65 L607.00,439.32 L608.00,439.81 L609.00,439.64 L610.00,439.11 L611.00,439.95 L612.00,439.50 L613.00,438.99 L614.00,439.01 L615.00,439.64 L616.00,439.63 L617.00,439.50 L618.00,439.34 L619.00,439.63 L620.00,439.64 L621.00,440.31 L622.00,439.35 L623.00,440.29 L624.00,440.44 L625.00,439.62 L626.00,440.63 L627.00,440.41 L628.00,440.68 L629.00,439.99 L630.00,440.13 L631.00,440.28 L632.00,441.17 L633.00,440.84 L634.00,440.73 L635.00,440.97 L636.00,440.95 L637.00,440.84 L638.00,441.06 L639.00,442.10 L640.00,441.60 L641.00,442.54 L642.00,441.88 L643.00,442.06 L644.00,442.52 L645.00,442.22 L646.00,442.43 L647.00,443.11 L648.00,443.01 L649.00,442.90 L650.00,442.67 L651.00,442.99 L652.00,443.01 L653.00,442.52 L654.00,442.71 L655.00,441.89 L656.00,442.69 L657.00,442.34 L658.00,442.69 L659.00,442.54 L660.00,442.10 L661.00,441.79 L662.00,442.83 L663.00,441.86 L664.00,442.25 L665.00,442.08 L666.00,442.01 L667.00,442.53 L668.00,442.79 L669.00,441.92 L670.00,442.38 L671.00,441.94 L672.00,442.23 L673.00,442.02 L674.00,441.73 L675.00,441.70 L676.00,441.74 L677.00,442.56 L678.00,442.06 L679.00,441.71 L680.00,442.52 L681.00,442.61 L682.00,441.75 L683.00,440.41 L684.00,439.51 L685.00,438.70 L686.00,438.96 L687.00,438.63 L688.00,438.77 L689.00,438.76 L690.00,439.10 L691.00,439.44 L692.00,439.24 L693.00,438.81 L694.00,438.77 L695.00,438.87 L696.00,438.66 L697.00,438.58 L698.00,438.21 L699.00,438.43 L700.00,439.23 L701.00,438.18 L702.00,438.60 L703.00,438.72 L704.00,438.96 L705.00,438.15 L706.00,438.18 L707.00,438.12 L708.00,438.27 L709.00,438.29 L710.00,438.86 L711.00,438.70 L712.00,438.70 L713.00,437.65 L714.00,437.64 L715.00,438.42 L716.00,438.61 L717.00,438.08 L718.00,438.19 L719.00,437.45 L720.00,437.89 L721.00,438.51 L722.00,438.36 L723.00,438.36 L724.00,438.47 L725.00,437.58 L726.00,437.38 L727.00,437.41 L728.00,437.82 L729.00,437.98 L730.00,438.26 L731.00,437.97 L732.00,437.85 L733.00,437.96 L734.00,437.57 L735.00,437.65 L736.00,437.01 L737.00,437.87 L738.00,437.18 L738.00,438.00 L738.00,455.00 L74.00,455.00 Z" fill="#3461c6" />
<path d="M74.00,442.55 L75.00,442.25 L76.00,442.12 L77.00,442.29 L78.00,442.72 L79.00,442.82 L80.00,442.28 L81.00,442.28 L82.00,442.78 L83.00,442.89 L84.00,442.74 L85.00,442.62 L86.00,443.04 L87.00,442.49 L88.00,442.83 L89.00,443.03 L90.00,443.58 L91.00,443.31 L92.00,443.59 L93.00,443.23 L94.00,443.03 L95.00,443.09 L96.00,443.85 L97.00,443.76 L98.00,443.59 L99.00,443.53 L100.00,444.23 L101.00,444.63 L102.00,444.60 L103.00,444.66 L104.00,445.29 L105.00,445.77 L106.00,445.30 L107.00,445.33 L108.00,445.86 L109.00,446.16 L110.00,446.65 L111.00,446.39 L112.00,447.21 L113.00,447.38 L114.00,447.37 L115.00,447.29 L116.00,448.28 L117.00,447.84 L118.00,448.43 L119.00,447.87 L120.00,447.88 L121.00,448.44 L122.00,447.99 L123.00,448.67 L124.00,448.23 L125.00,447.95 L126.00,448.00 L127.00,448.22 L128.00,448.49 L129.00,448.79 L130.00,448.01 L131.00,448.28 L132.00,448.12 L133.00,448.90 L134.00,448.09 L135.00,448.02 L136.00,448.05 L137.00,448.40 L138.00,448.93 L139.00,448.93 L140.00,448.80 L141.00,449.09 L142.00,449.04 L143.00,448.46 L144.00,448.34 L145.00,449.11 L146.00,448.94 L147.00,448.25 L148.00,448.90 L149.00,448.64 L150.00,448.65 L151.00,448.63 L152.00,448.49 L153.00,448.34 L154.00,448.64 L155.00,448.73 L156.00,449.36 L157.00,448.55 L158.00,449.41 L159.00,448.67 L160.00,448.84 L161.00,449.33 L162.00,449.35 L163.00,448.98 L164.00,448.62 L165.00,449.06 L166.00,448.98 L167.00,449.55 L168.00,448.84 L169.00,449.04 L170.00,449.59 L171.00,448.74 L172.00,449.14 L173.00,449.57 L174.00,449.54 L175.00,448.84 L176.00,448.85 L177.00,448.90 L178.00,449.78 L179.00,449.14 L180.00,449.65 L181.00,449.82 L182.00,449.28 L183.00,449.23 L184.00,449.94 L185.00,449.62 L186.00,449.28 L187.00,449.76 L188.00,449.38 L189.00,449.36 L190.00,449.10 L191.00,449.88 L192.00,450.06 L193.00,449.79 L194.00,450.12 L195.00,449.22 L196.00,449.45 L197.00,449.72 L198.00,450.22 L199.00,450.23 L200.00,449.69 L201.00,449.57 L202.00,449.77 L203.00,449.85 L204.00,450.31 L205.00,449.58 L206.00,450.22 L207.00,450.18 L208.00,450.28 L209.00,450.25 L210.00,450.11 L211.00,449.85 L212.00,449.86 L213.00,449.92 L214.00,450.36 L215.00,449.68 L216.00,449.82 L217.00,450.39 L218.00,449.91 L219.00,449.74 L220.00,449.73 L221.00,450.27 L222.00,450.07 L223.00,450.74 L224.00,450.66 L225.00,450.79 L226.00,450.08 L227.00,449.92 L228.00,449.96 L229.00,450.38 L230.00,450.61 L231.00,450.37 L232.00,450.17 L233.00,450.38 L234.00,450.60 L235.00,450.67 L236.00,450.77 L237.00,450.89 L238.00,450.72 L239.00,450.20 L240.00,450.94 L241.00,450.41 L242.00,450.71 L243.00,450.53 L244.00,450.92 L245.00,450.40 L246.00,450.47 L247.00,450.49 L248.00,450.41 L249.00,451.16 L250.00,450.88 L251.00,450.60 L252.00,450.64 L253.00,451.21 L254.00,450.70 L255.00,450.39 L256.00,450.94 L257.00,450.76 L258.00,451.07 L259.00,450.15 L260.00,450.49 L261.00,450.81 L262.00,450.80 L263.00,450.85 L264.00,449.95 L265.00,450.17 L266.00,449.97 L267.00,450.01 L268.00,450.77 L269.00,450.35 L270.00,450.67 L271.00,450.08 L272.00,450.55 L273.00,450.11 L274.00,449.89 L275.00,450.38 L276.00,450.52 L277.00,449.65 L278.00,450.11 L279.00,450.11 L280.00,449.68 L281.00,449.80 L282.00,449.55 L283.00,449.58 L284.00,449.60 L285.00,449.92 L286.00,449.94 L287.00,449.47 L288.00,449.25 L289.00,449.54 L290.00,449.86 L291.00,449.34 L292.00,449.44 L293.00,449.30 L294.00,449.86 L295.00,449.59 L296.00,449.08 L297.00,449.09 L298.00,449.35 L299.00,449.48 L300.00,449.54 L301.00,448.99 L302.00,449.06 L303.00,449.58 L304.00,449.29 L305.00,449.16 L306.00,449.18 L307.00,449.83 L308.00,449.18 L309.00,449.43 L310.00,449.22 L311.00,449.27 L312.00,449.72 L313.00,449.84 L314.00,449.21 L315.00,449.04 L316.00,449.56 L317.00,449.04 L318.00,448.83 L319.00,449.73 L320.00,449.24 L321.00,449.64 L322.00,449.22 L323.00,449.69 L324.00,449.26 L325.00,448.96 L326.00,448.81 L327.00,449.34 L328.00,449.43 L329.00,449.69 L330.00,448.87 L331.00,449.40 L332.00,449.14 L333.00,449.27 L334.00,448.91 L335.00,449.04 L336.00,449.28 L337.00,449.68 L338.00,448.86 L339.00,449.23 L340.00,449.54 L341.00,449.70 L342.00,448.93 L343.00,448.85 L344.00,449.67 L345.00,449.70 L346.00,449.20 L347.00,448.77 L348.00,449.63 L349.00,449.09 L350.00,449.60 L351.00,449.32 L352.00,449.52 L353.00,448.85 L354.00,449.47 L355.00,448.90 L356.00,449.08 L357.00,449.52 L358.00,449.50 L359.00,448.85 L360.00,448.88 L361.00,449.06 L362.00,449.17 L363.00,449.03 L364.00,448.77 L365.00,448.89 L366.00,449.36 L367.00,449.53 L368.00,448.67 L369.00,449.19 L370.00,449.38 L371.00,448.65 L372.00,449.45 L373.00,448.73 L374.00,449.20 L375.00,449.15 L376.00,449.22 L377.00,448.90 L378.00,449.01 L379.00,449.17 L380.00,449.01 L381.00,449.23 L382.00,449.02 L383.00,449.01 L384.00,448.59 L385.00,449.18 L386.00,449.05 L387.00,448.79 L388.00,449.31 L389.00,449.32 L390.00,449.00 L391.00,448.72 L392.00,449.01 L393.00,448.64 L394.00,448.65 L395.00,448.95 L396.00,448.61 L397.00,448.95 L398.00,449.02 L399.00,448.54 L400.00,449.14 L401.00,448.58 L402.00,449.23 L403.00,449.27 L404.00,449.00 L405.00,448.53 L406.00,448.98 L407.00,448.85 L408.00,449.42 L409.00,448.60 L410.00,449.32 L411.00,449.45 L412.00,449.18 L413.00,449.26 L414.00,448.64 L415.00,449.42 L416.00,448.93 L417.00,449.39 L418.00,449.34 L419.00,448.59 L420.00,449.21 L421.00,449.35 L422.00,448.48 L423.00,448.76 L424.00,449.16 L425.00,448.56 L426.00,449.29 L427.00,448.67 L428.00,449.20 L429.00,448.53 L430.00,448.88 L431.00,449.30 L432.00,448.58 L433.00,448.63 L434.00,448.87 L435.00,448.68 L436.00,448.39 L437.00,448.53 L438.00,448.51 L439.00,449.28 L440.00,449.02 L441.00,449.23 L442.00,448.50 L443.00,449.11 L444.00,448.44 L445.00,448.85 L446.00,448.95 L447.00,448.67 L448.00,449.18 L449.00,448.86 L450.00,448.88 L451.00,449.20 L452.00,448.44 L453.00,449.34 L454.00,449.00 L455.00,448.78 L456.00,449.20 L457.00,448.68 L458.00,449.42 L459.00,449.03 L460.00,448.83 L461.00,449.25 L462.00,448.94 L463.00,448.69 L464.00,449.28 L465.00,448.60 L466.00,449.39 L467.00,448.84 L468.00,449.24 L469.00,449.60 L470.00,449.22 L471.00,449.31 L472.00,448.98 L473.00,448.69 L474.00,448.73 L475.00,448.87 L476.00,449.35 L477.00,449.18 L478.00,449.28 L479.00,449.68 L480.00,448.93 L481.00,449.04 L482.00,449.49 L483.00,448.87 L484.00,448.87 L485.00,449.24 L486.00,449.01 L487.00,449.27 L488.00,449.16 L489.00,449.53 L490.00,449.56 L491.00,449.19 L492.00,449.62 L493.00,449.49 L494.00,449.17 L495.00,449.99 L496.00,449.31 L497.00,449.23 L498.00,449.20 L499.00,449.75 L500.00,450.00 L501.00,449.93 L502.00,449.57 L503.00,449.45 L504.00,449.21 L505.00,449.86 L506.00,449.80 L507.00,449.60 L508.00,449.91 L509.00,449.73 L510.00,450.24 L511.00,450.04 L512.00,449.57 L513.00,450.23 L514.00,449.39 L515.00,449.88 L516.00,449.77 L517.00,449.61 L518.00,449.44 L519.00,450.17 L520.00,449.42 L521.00,449.97 L522.00,450.37 L523.00,449.58 L524.00,449.65 L525.00,450.06 L526.00,449.97 L527.00,450.12 L528.00,450.30 L529.00,449.67 L530.00,449.82 L531.00,449.82 L532.00,449.58 L533.00,450.43 L534.00,450.33 L535.00,450.28 L536.00,449.58 L537.00,450.43 L538.00,450.34 L539.00,450.07 L540.00,450.35 L541.00,450.07 L542.00,449.86 L543.00,449.75 L544.00,449.89 L545.00,449.70 L546.00,450.01 L547.00,450.43 L548.00,450.39 L549.00,450.55 L550.00,450.43 L551.00,449.99 L552.00,450.29 L553.00,450.18 L554.00,450.55 L555.00,450.29 L556.00,450.04 L557.00,450.43 L558.00,450.76 L559.00,450.03 L560.00,450.70 L561.00,449.85 L562.00,450.10 L563.00,450.09 L564.00,450.61 L565.00,450.82 L566.00,450.63 L567.00,450.22 L568.00,450.78 L569.00,450.24 L570.00,450.16 L571.00,450.84 L572.00,450.58 L573.00,450.65 L574.00,450.63 L575.00,450.96 L576.00,450.46 L577.00,450.84 L578.00,450.70 L579.00,450.88 L580.00,450.47 L581.00,450.76 L582.00,450.62 L583.00,450.37 L584.00,450.28 L585.00,450.70 L586.00,450.17 L587.00,451.01 L588.00,450.26 L589.00,450.15 L590.00,450.24 L591.00,451.07 L592.00,450.50 L593.00,450.31 L594.00,450.20 L595.00,450.23 L596.00,450.89 L597.00,450.84 L598.00,450.91 L599.00,450.96 L600.00,450.30 L601.00,450.84 L602.00,450.62 L603.00,451.08 L604.00,451.10 L605.00,451.18 L606.00,450.36 L607.00,451.18 L608.00,451.23 L609.00,451.27 L610.00,450.45 L611.00,450.56 L612.00,450.47 L613.00,450.41 L614.00,451.23 L615.00,451.20 L616.00,451.04 L617.00,451.24 L618.00,451.05 L619.00,450.72 L620.00,450.54 L621.00,450.55 L622.00,451.22 L623.00,450.68 L624.00,450.80 L625.00,450.92 L626.00,450.53 L627.00,450.77 L628.00,450.81 L629.00,451.25 L630.00,450.92 L631.00,450.88 L632.00,451.53 L633.00,451.08 L634.00,451.44 L635.00,451.22 L636.00,450.64 L637.00,451.03 L638.00,451.07 L639.00,451.41 L640.00,451.00 L641.00,451.37 L642.00,451.21 L643.00,450.90 L644.00,451.56 L645.00,450.80 L646.00,451.54 L647.00,450.91 L648.00,450.76 L649.00,450.97 L650.00,451.55 L651.00,451.78 L652.00,450.82 L653.00,451.33 L654.00,451.34 L655.00,451.66 L656.00,451.07 L657.00,451.39 L658.00,451.26 L659.00,451.76 L660.00,451.21 L661.00,451.91 L662.00,451.26 L663.00,451.21 L664.00,451.71 L665.00,451.53 L666.00,451.16 L667.00,451.70 L668.00,451.16 L669.00,451.88 L670.00,451.81 L671.00,451.91 L672.00,451.77 L673.00,451.51 L674.00,451.58 L675.00,451.58 L676.00,452.10 L677.00,451.31 L678.00,452.13 L679.00,451.28 L680.00,451.48 L681.00,451.55 L682.00,451.86 L683.00,449.77 L684.00,447.96 L685.00,447.28 L686.00,446.61 L687.00,446.82 L688.00,446.88 L689.00,447.08 L690.00,447.06 L691.00,446.94 L692.00,446.63 L693.00,446.59 L694.00,446.40 L695.00,447.07 L696.00,446.87 L697.00,446.93 L698.00,446.34 L699.00,446.60 L700.00,446.92 L701.00,446.70 L702.00,446.23 L703.00,446.55 L704.00,446.96 L705.00,446.30 L706.00,446.23 L707.00,446.32 L708.00,446.71 L709.00,446.83 L710.00,446.13 L711.00,446.11 L712.00,446.19 L713.00,446.25 L714.00,446.43 L715.00,446.05 L716.00,446.20 L717.00,446.04 L718.00,446.81 L719.00,446.55 L720.00,445.91 L721.00,446.75 L722.00,445.87 L723.00,446.14 L724.00,446.72 L725.00,446.51 L726.00,446.44 L727.00,446.12 L728.00,445.87 L729.00,446.29 L730.00,445.74 L731.00,445.82 L732.00,445.99 L733.00,445.62 L734.00,445.97 L735.00,446.34 L736.00,446.23 L737.00,446.02 L738.00,446.13 L738.00,445.96 L738.00,455.00 L74.00,455.00 Z" fill="#3f87f4" />
<path d="M74.00,444.13 L75.00,444.13 L76.00,444.01 L77.00,444.24 L78.00,444.57 L79.00,444.51 L80.00,444.25 L81.00,444.33 L82.00,444.55 L83.00,444.57 L84.00,444.67 L85.00,444.67 L86.00,444.91 L87.00,444.58 L88.00,444.86 L89.00,444.95 L90.00,445.28 L91.00,445.09 L92.00,445.23 L93.00,445.14 L94.00,444.88 L95.00,445.04 L96.00,445.63 L97.00,445.62 L98.00,445.56 L99.00,445.48 L100.00,446.03 L101.00,446.35 L102.00,446.46 L103.00,446.50 L104.00,447.04 L105.00,447.49 L106.00,447.04 L107.00,447.28 L108.00,447.71 L109.00,447.85 L110.00,448.24 L111.00,448.32 L112.00,448.59 L113.00,448.92 L114.00,448.87 L115.00,449.09 L116.00,449.81 L117.00,449.49 L118.00,449.74 L119.00,449.57 L120.00,449.58 L121.00,449.98 L122.00,449.66 L123.00,450.12 L124.00,449.93 L125.00,449.68 L126.00,449.69 L127.00,450.00 L128.00,449.94 L129.00,450.29 L130.00,449.74 L131.00,450.03 L132.00,449.74 L133.00,450.50 L134.00,449.83 L135.00,449.70 L136.00,449.80 L137.00,450.07 L138.00,450.27 L139.00,450.42 L140.00,450.36 L141.00,450.63 L142.00,450.50 L143.00,450.14 L144.00,450.07 L145.00,450.71 L146.00,450.68 L147.00,450.15 L148.00,450.45 L149.00,450.50 L150.00,450.39 L151.00,450.33 L152.00,450.23 L153.00,450.36 L154.00,450.57 L155.00,450.58 L156.00,450.91 L157.00,450.47 L158.00,450.89 L159.00,450.70 L160.00,450.62 L161.00,451.02 L162.00,451.10 L163.00,450.89 L164.00,450.58 L165.00,450.80 L166.00,450.85 L167.00,451.06 L168.00,450.88 L169.00,450.86 L170.00,451.36 L171.00,450.68 L172.00,450.97 L173.00,451.19 L174.00,451.25 L175.00,450.76 L176.00,450.71 L177.00,450.97 L178.00,451.36 L179.00,450.96 L180.00,451.29 L181.00,451.45 L182.00,451.11 L183.00,451.15 L184.00,451.58 L185.00,451.29 L186.00,451.27 L187.00,451.53 L188.00,451.05 L189.00,451.28 L190.00,451.16 L191.00,451.58 L192.00,451.48 L193.00,451.55 L194.00,451.68 L195.00,450.95 L196.00,451.08 L197.00,451.54 L198.00,451.75 L199.00,451.63 L200.00,451.25 L201.00,451.20 L202.00,451.35 L203.00,451.57 L204.00,451.71 L205.00,451.21 L206.00,451.83 L207.00,451.77 L208.00,451.63 L209.00,451.85 L210.00,451.67 L211.00,451.57 L212.00,451.54 L213.00,451.65 L214.00,451.88 L215.00,451.49 L216.00,451.37 L217.00,451.87 L218.00,451.53 L219.00,451.50 L220.00,451.40 L221.00,451.86 L222.00,451.63 L223.00,451.94 L224.00,451.89 L225.00,451.93 L226.00,451.63 L227.00,451.39 L228.00,451.54 L229.00,451.69 L230.00,451.94 L231.00,451.80 L232.00,451.70 L233.00,451.92 L234.00,451.78 L235.00,452.09 L236.00,452.03 L237.00,452.13 L238.00,452.07 L239.00,451.81 L240.00,452.11 L241.00,451.80 L242.00,452.15 L243.00,451.77 L244.00,452.18 L245.00,451.87 L246.00,451.71 L247.00,451.91 L248.00,451.89 L249.00,452.42 L250.00,452.06 L251.00,452.10 L252.00,451.97 L253.00,452.31 L254.00,452.13 L255.00,451.67 L256.00,452.22 L257.00,452.08 L258.00,452.18 L259.00,451.79 L260.00,451.84 L261.00,452.07 L262.00,452.08 L263.00,452.18 L264.00,451.46 L265.00,451.67 L266.00,451.55 L267.00,451.61 L268.00,452.16 L269.00,451.73 L270.00,452.10 L271.00,451.61 L272.00,451.92 L273.00,451.58 L274.00,451.53 L275.00,451.97 L276.00,451.95 L277.00,451.48 L278.00,451.61 L279.00,451.60 L280.00,451.34 L281.00,451.50 L282.00,451.36 L283.00,451.43 L284.00,451.21 L285.00,451.62 L286.00,451.69 L287.00,451.29 L288.00,451.00 L289.00,451.25 L290.00,451.35 L291.00,451.10 L292.00,451.39 L293.00,451.21 L294.00,451.57 L295.00,451.44 L296.00,451.18 L297.00,451.09 L298.00,451.25 L299.00,451.33 L300.00,451.39 L301.00,451.02 L302.00,451.09 L303.00,451.26 L304.00,451.23 L305.00,451.09 L306.00,451.20 L307.00,451.37 L308.00,451.01 L309.00,451.11 L310.00,451.22 L311.00,451.30 L312.00,451.48 L313.00,451.47 L314.00,451.23 L315.00,451.12 L316.00,451.36 L317.00,450.95 L318.00,450.84 L319.00,451.41 L320.00,451.09 L321.00,451.36 L322.00,451.18 L323.00,451.56 L324.00,451.02 L325.00,451.00 L326.00,450.74 L327.00,451.09 L328.00,451.36 L329.00,451.45 L330.00,451.06 L331.00,451.23 L332.00,450.94 L333.00,451.13 L334.00,450.98 L335.00,451.17 L336.00,451.33 L337.00,451.41 L338.00,450.89 L339.00,451.02 L340.00,451.38 L341.00,451.34 L342.00,450.85 L343.00,450.77 L344.00,451.25 L345.00,451.48 L346.00,451.01 L347.00,451.02 L348.00,451.26 L349.00,451.18 L350.00,451.25 L351.00,451.05 L352.00,451.39 L353.00,450.84 L354.00,451.37 L355.00,450.85 L356.00,450.92 L357.00,451.41 L358.00,451.38 L359.00,451.03 L360.00,451.01 L361.00,450.91 L362.00,451.15 L363.00,451.10 L364.00,450.86 L365.00,451.08 L366.00,451.15 L367.00,451.48 L368.00,450.88 L369.00,450.97 L370.00,451.08 L371.00,450.85 L372.00,451.39 L373.00,450.71 L374.00,451.08 L375.00,451.18 L376.00,451.04 L377.00,451.07 L378.00,451.02 L379.00,450.97 L380.00,450.98 L381.00,451.18 L382.00,451.01 L383.00,451.08 L384.00,450.65 L385.00,451.22 L386.00,451.00 L387.00,450.94 L388.00,451.25 L389.00,451.19 L390.00,450.98 L391.00,450.94 L392.00,451.16 L393.00,450.89 L394.00,450.83 L395.00,450.92 L396.00,450.64 L397.00,451.14 L398.00,451.09 L399.00,450.85 L400.00,451.05 L401.00,450.80 L402.00,451.31 L403.00,451.29 L404.00,451.05 L405.00,450.68 L406.00,450.99 L407.00,451.05 L408.00,451.23 L409.00,450.84 L410.00,451.24 L411.00,451.42 L412.00,451.23 L413.00,451.11 L414.00,450.64 L415.00,451.20 L416.00,450.95 L417.00,451.28 L418.00,451.33 L419.00,450.90 L420.00,451.00 L421.00,451.34 L422.00,450.81 L423.00,451.00 L424.00,451.14 L425.00,450.69 L426.00,451.31 L427.00,450.92 L428.00,451.21 L429.00,450.87 L430.00,450.91 L431.00,451.07 L432.00,450.79 L433.00,450.90 L434.00,450.85 L435.00,450.91 L436.00,450.80 L437.00,450.66 L438.00,450.77 L439.00,451.25 L440.00,451.03 L441.00,451.07 L442.00,450.65 L443.00,451.18 L444.00,450.78 L445.00,450.93 L446.00,450.87 L447.00,450.93 L448.00,451.22 L449.00,450.86 L450.00,450.98 L451.00,451.28 L452.00,450.81 L453.00,451.24 L454.00,451.02 L455.00,450.92 L456.00,451.05 L457.00,450.74 L458.00,451.18 L459.00,451.11 L460.00,450.88 L461.00,451.20 L462.00,450.97 L463.00,450.85 L464.00,451.09 L465.00,450.64 L466.00,451.42 L467.00,450.89 L468.00,451.05 L469.00,451.44 L470.00,451.26 L471.00,451.11 L472.00,451.05 L473.00,450.79 L474.00,450.88 L475.00,450.80 L476.00,451.09 L477.00,451.30 L478.00,451.32 L479.00,451.44 L480.00,451.01 L481.00,450.98 L482.00,451.42 L483.00,450.93 L484.00,451.10 L485.00,451.26 L486.00,451.14 L487.00,451.35 L488.00,451.05 L489.00,451.21 L490.00,451.27 L491.00,451.05 L492.00,451.28 L493.00,451.19 L494.00,451.16 L495.00,451.75 L496.00,451.21 L497.00,451.32 L498.00,451.29 L499.00,451.35 L500.00,451.67 L501.00,451.56 L502.00,451.26 L503.00,451.45 L504.00,451.09 L505.00,451.58 L506.00,451.56 L507.00,451.55 L508.00,451.64 L509.00,451.44 L510.00,451.77 L511.00,451.56 L512.00,451.53 L513.00,451.94 L514.00,451.18 L515.00,451.43 L516.00,451.43 L517.00,451.36 L518.00,451.44 L519.00,451.88 L520.00,451.40 L521.00,451.48 L522.00,451.96 L523.00,451.46 L524.00,451.48 L525.00,451.84 L526.00,451.49 L527.00,451.61 L528.00,451.91 L529.00,451.60 L530.00,451.60 L531.00,451.48 L532.00,451.43 L533.00,451.99 L534.00,451.73 L535.00,451.76 L536.00,451.32 L537.00,451.79 L538.00,451.85 L539.00,451.59 L540.00,451.79 L541.00,451.59 L542.00,451.63 L543.00,451.35 L544.00,451.66 L545.00,451.38 L546.00,451.52 L547.00,452.06 L548.00,451.81 L549.00,452.13 L550.00,452.04 L551.00,451.78 L552.00,451.72 L553.00,451.76 L554.00,451.86 L555.00,451.98 L556.00,451.80 L557.00,451.97 L558.00,452.11 L559.00,451.63 L560.00,452.19 L561.00,451.57 L562.00,451.77 L563.00,451.61 L564.00,451.95 L565.00,452.02 L566.00,452.12 L567.00,451.82 L568.00,452.03 L569.00,451.94 L570.00,451.70 L571.00,452.15 L572.00,451.91 L573.00,451.99 L574.00,452.17 L575.00,452.20 L576.00,451.85 L577.00,452.18 L578.00,452.05 L579.00,452.34 L580.00,451.84 L581.00,452.29 L582.00,451.91 L583.00,452.03 L584.00,451.91 L585.00,452.01 L586.00,451.78 L587.00,452.22 L588.00,451.76 L589.00,451.68 L590.00,451.79 L591.00,452.49 L592.00,452.15 L593.00,452.01 L594.00,451.68 L595.00,451.76 L596.00,452.35 L597.00,452.05 L598.00,452.31 L599.00,452.20 L600.00,452.03 L601.00,452.04 L602.00,452.17 L603.00,452.30 L604.00,452.24 L605.00,452.24 L606.00,452.02 L607.00,452.41 L608.00,452.34 L609.00,452.44 L610.00,452.10 L611.00,451.94 L612.00,452.01 L613.00,451.83 L614.00,452.34 L615.00,452.51 L616.00,452.39 L617.00,452.35 L618.00,452.20 L619.00,452.01 L620.00,452.07 L621.00,452.04 L622.00,452.37 L623.00,452.02 L624.00,452.23 L625.00,452.33 L626.00,452.13 L627.00,452.20 L628.00,452.10 L629.00,452.32 L630.00,452.34 L631.00,452.21 L632.00,452.70 L633.00,452.22 L634.00,452.68 L635.00,452.39 L636.00,452.21 L637.00,452.45 L638.00,452.35 L639.00,452.41 L640.00,452.45 L641.00,452.53 L642.00,452.56 L643.00,452.18 L644.00,452.55 L645.00,452.30 L646.00,452.60 L647.00,452.16 L648.00,452.13 L649.00,452.33 L650.00,452.49 L651.00,452.79 L652.00,452.20 L653.00,452.52 L654.00,452.40 L655.00,452.79 L656.00,452.46 L657.00,452.67 L658.00,452.42 L659.00,452.85 L660.00,452.41 L661.00,452.95 L662.00,452.34 L663.00,452.57 L664.00,452.89 L665.00,452.63 L666.00,452.42 L667.00,452.75 L668.00,452.43 L669.00,452.70 L670.00,452.95 L671.00,452.78 L672.00,452.68 L673.00,452.50 L674.00,452.59 L675.00,452.77 L676.00,452.83 L677.00,452.38 L678.00,453.06 L679.00,452.39 L680.00,452.45 L681.00,452.68 L682.00,452.76 L683.00,451.00 L684.00,449.47 L685.00,448.52 L686.00,448.37 L687.00,448.44 L688.00,448.26 L689.00,448.41 L690.00,448.52 L691.00,448.44 L692.00,448.18 L693.00,448.11 L694.00,448.09 L695.00,448.41 L696.00,448.43 L697.00,448.56 L698.00,447.97 L699.00,448.26 L700.00,448.51 L701.00,448.19 L702.00,448.12 L703.00,448.35 L704.00,448.42 L705.00,448.03 L706.00,448.13 L707.00,448.08 L708.00,448.27 L709.00,448.52 L710.00,448.05 L711.00,447.90 L712.00,447.91 L713.00,447.98 L714.00,448.12 L715.00,448.06 L716.00,448.10 L717.00,448.04 L718.00,448.47 L719.00,448.32 L720.00,447.68 L721.00,448.34 L722.00,447.95 L723.00,448.10 L724.00,448.23 L725.00,448.16 L726.00,448.18 L727.00,447.91 L728.00,447.81 L729.00,447.92 L730.00,447.70 L731.00,447.78 L732.00,447.72 L733.00,447.54 L734.00,448.01 L735.00,448.17 L736.00,448.16 L737.00,447.93 L738.00,448.06 L738.00,447.98 L738.00,455.00 L74.00,455.00 Z" fill="#6fa0f2" />
<path d="M74.00,445.32 L75.00,445.53 L76.00,445.42 L77.00,445.70 L78.00,445.97 L79.00,445.77 L80.00,445.73 L81.00,445.87 L82.00,445.88 L83.00,445.84 L84.00,446.11 L85.00,446.21 L86.00,446.31 L87.00,446.15 L88.00,446.38 L89.00,446.38 L90.00,446.57 L91.00,446.42 L92.00,446.47 L93.00,446.58 L94.00,446.26 L95.00,446.50 L96.00,446.97 L97.00,447.01 L98.00,447.04 L99.00,446.94 L100.00,447.38 L101.00,447.64 L102.00,447.86 L103.00,447.89 L104.00,448.36 L105.00,448.77 L106.00,448.34 L107.00,448.75 L108.00,449.10 L109.00,449.11 L110.00,449.44 L111.00,449.76 L112.00,449.62 L113.00,450.08 L114.00,449.99 L115.00,450.45 L116.00,450.96 L117.00,450.73 L118.00,450.72 L119.00,450.84 L120.00,450.85 L121.00,451.14 L122.00,450.91 L123.00,451.21 L124.00,451.21 L125.00,450.97 L126.00,450.95 L127.00,451.34 L128.00,451.03 L129.00,451.41 L130.00,451.04 L131.00,451.35 L132.00,450.96 L133.00,451.70 L134.00,451.13 L135.00,450.97 L136.00,451.12 L137.00,451.32 L138.00,451.28 L139.00,451.53 L140.00,451.52 L141.00,451.78 L142.00,451.60 L143.00,451.40 L144.00,451.36 L145.00,451.91 L146.00,451.99 L147.00,451.57 L148.00,451.62 L149.00,451.89 L150.00,451.69 L151.00,451.60 L152.00,451.54 L153.00,451.88 L154.00,452.01 L155.00,451.96 L156.00,452.08 L157.00,451.91 L158.00,452.01 L159.00,452.22 L160.00,451.95 L161.00,452.28 L162.00,452.41 L163.00,452.32 L164.00,452.04 L165.00,452.10 L166.00,452.24 L167.00,452.20 L168.00,452.41 L169.00,452.22 L170.00,452.69 L171.00,452.13 L172.00,452.33 L173.00,452.42 L174.00,452.53 L175.00,452.21 L176.00,452.11 L177.00,452.53 L178.00,452.54 L179.00,452.33 L180.00,452.52 L181.00,452.67 L182.00,452.48 L183.00,452.58 L184.00,452.81 L185.00,452.54 L186.00,452.76 L187.00,452.86 L188.00,452.30 L189.00,452.73 L190.00,452.70 L191.00,452.86 L192.00,452.56 L193.00,452.86 L194.00,452.85 L195.00,452.24 L196.00,452.30 L197.00,452.91 L198.00,452.90 L199.00,452.67 L200.00,452.43 L201.00,452.42 L202.00,452.53 L203.00,452.86 L204.00,452.75 L205.00,452.43 L206.00,453.04 L207.00,452.96 L208.00,452.65 L209.00,453.04 L210.00,452.84 L211.00,452.86 L212.00,452.80 L213.00,452.95 L214.00,453.02 L215.00,452.85 L216.00,452.53 L217.00,452.98 L218.00,452.74 L219.00,452.81 L220.00,452.64 L221.00,453.05 L222.00,452.81 L223.00,452.85 L224.00,452.81 L225.00,452.79 L226.00,452.78 L227.00,452.49 L228.00,452.73 L229.00,452.67 L230.00,452.94 L231.00,452.87 L232.00,452.84 L233.00,453.08 L234.00,452.67 L235.00,453.16 L236.00,452.98 L237.00,453.07 L238.00,453.08 L239.00,453.02 L240.00,452.98 L241.00,452.85 L242.00,453.24 L243.00,452.69 L244.00,453.12 L245.00,452.97 L246.00,452.65 L247.00,452.98 L248.00,453.00 L249.00,453.36 L250.00,452.94 L251.00,453.22 L252.00,452.97 L253.00,453.13 L254.00,453.21 L255.00,452.63 L256.00,453.18 L257.00,453.07 L258.00,453.01 L259.00,453.02 L260.00,452.85 L261.00,453.01 L262.00,453.03 L263.00,453.19 L264.00,452.60 L265.00,452.80 L266.00,452.73 L267.00,452.82 L268.00,453.20 L269.00,452.77 L270.00,453.17 L271.00,452.76 L272.00,452.95 L273.00,452.69 L274.00,452.76 L275.00,453.17 L276.00,453.03 L277.00,452.85 L278.00,452.73 L279.00,452.72 L280.00,452.58 L281.00,452.78 L282.00,452.73 L283.00,452.82 L284.00,452.41 L285.00,452.89 L286.00,452.99 L287.00,452.66 L288.00,452.32 L289.00,452.54 L290.00,452.48 L291.00,452.42 L292.00,452.86 L293.00,452.65 L294.00,452.84 L295.00,452.84 L296.00,452.75 L297.00,452.59 L298.00,452.67 L299.00,452.71 L300.00,452.77 L301.00,452.55 L302.00,452.62 L303.00,452.52 L304.00,452.68 L305.00,452.53 L306.00,452.70 L307.00,452.53 L308.00,452.38 L309.00,452.37 L310.00,452.72 L311.00,452.82 L312.00,452.81 L313.00,452.68 L314.00,452.75 L315.00,452.68 L316.00,452.71 L317.00,452.38 L318.00,452.35 L319.00,452.68 L320.00,452.48 L321.00,452.66 L322.00,452.65 L323.00,452.96 L324.00,452.34 L325.00,452.53 L326.00,452.19 L327.00,452.40 L328.00,452.81 L329.00,452.76 L330.00,452.71 L331.00,452.60 L332.00,452.28 L333.00,452.53 L334.00,452.54 L335.00,452.77 L336.00,452.86 L337.00,452.70 L338.00,452.42 L339.00,452.36 L340.00,452.76 L341.00,452.56 L342.00,452.30 L343.00,452.20 L344.00,452.44 L345.00,452.83 L346.00,452.36 L347.00,452.71 L348.00,452.48 L349.00,452.75 L350.00,452.49 L351.00,452.34 L352.00,452.80 L353.00,452.33 L354.00,452.79 L355.00,452.31 L356.00,452.29 L357.00,452.83 L358.00,452.79 L359.00,452.67 L360.00,452.61 L361.00,452.30 L362.00,452.64 L363.00,452.65 L364.00,452.43 L365.00,452.73 L366.00,452.49 L367.00,452.94 L368.00,452.55 L369.00,452.31 L370.00,452.36 L371.00,452.50 L372.00,452.84 L373.00,452.21 L374.00,452.48 L375.00,452.70 L376.00,452.41 L377.00,452.70 L378.00,452.52 L379.00,452.33 L380.00,452.45 L381.00,452.64 L382.00,452.50 L383.00,452.63 L384.00,452.21 L385.00,452.75 L386.00,452.47 L387.00,452.55 L388.00,452.70 L389.00,452.58 L390.00,452.47 L391.00,452.61 L392.00,452.78 L393.00,452.58 L394.00,452.46 L395.00,452.40 L396.00,452.17 L397.00,452.78 L398.00,452.65 L399.00,452.58 L400.00,452.48 L401.00,452.47 L402.00,452.87 L403.00,452.80 L404.00,452.59 L405.00,452.29 L406.00,452.49 L407.00,452.71 L408.00,452.59 L409.00,452.52 L410.00,452.69 L411.00,452.89 L412.00,452.76 L413.00,452.50 L414.00,452.15 L415.00,452.53 L416.00,452.47 L417.00,452.70 L418.00,452.82 L419.00,452.63 L420.00,452.35 L421.00,452.83 L422.00,452.56 L423.00,452.67 L424.00,452.63 L425.00,452.28 L426.00,452.83 L427.00,452.61 L428.00,452.71 L429.00,452.63 L430.00,452.42 L431.00,452.40 L432.00,452.45 L433.00,452.60 L434.00,452.34 L435.00,452.59 L436.00,452.60 L437.00,452.26 L438.00,452.46 L439.00,452.73 L440.00,452.53 L441.00,452.45 L442.00,452.26 L443.00,452.72 L444.00,452.54 L445.00,452.48 L446.00,452.30 L447.00,452.62 L448.00,452.76 L449.00,452.36 L450.00,452.56 L451.00,452.83 L452.00,452.60 L453.00,452.67 L454.00,452.54 L455.00,452.53 L456.00,452.44 L457.00,452.28 L458.00,452.50 L459.00,452.67 L460.00,452.42 L461.00,452.66 L462.00,452.48 L463.00,452.47 L464.00,452.44 L465.00,452.18 L466.00,452.95 L467.00,452.44 L468.00,452.41 L469.00,452.81 L470.00,452.78 L471.00,452.46 L472.00,452.61 L473.00,452.38 L474.00,452.49 L475.00,452.25 L476.00,452.40 L477.00,452.89 L478.00,452.85 L479.00,452.76 L480.00,452.58 L481.00,452.44 L482.00,452.86 L483.00,452.48 L484.00,452.77 L485.00,452.78 L486.00,452.74 L487.00,452.90 L488.00,452.47 L489.00,452.46 L490.00,452.56 L491.00,452.44 L492.00,452.52 L493.00,452.46 L494.00,452.65 L495.00,453.07 L496.00,452.64 L497.00,452.89 L498.00,452.85 L499.00,452.55 L500.00,452.92 L501.00,452.79 L502.00,452.53 L503.00,452.96 L504.00,452.50 L505.00,452.86 L506.00,452.89 L507.00,453.00 L508.00,452.94 L509.00,452.73 L510.00,452.91 L511.00,452.69 L512.00,453.00 L513.00,453.22 L514.00,452.53 L515.00,452.58 L516.00,452.67 L517.00,452.68 L518.00,452.94 L519.00,453.16 L520.00,452.89 L521.00,452.62 L522.00,453.15 L523.00,452.87 L524.00,452.86 L525.00,453.18 L526.00,452.63 L527.00,452.72 L528.00,453.12 L529.00,453.04 L530.00,452.94 L531.00,452.72 L532.00,452.82 L533.00,453.17 L534.00,452.77 L535.00,452.88 L536.00,452.63 L537.00,452.82 L538.00,452.99 L539.00,452.73 L540.00,452.86 L541.00,452.72 L542.00,452.96 L543.00,452.56 L544.00,452.99 L545.00,452.65 L546.00,452.65 L547.00,453.28 L548.00,452.87 L549.00,453.32 L550.00,453.25 L551.00,453.13 L552.00,452.80 L553.00,452.94 L554.00,452.85 L555.00,453.24 L556.00,453.12 L557.00,453.12 L558.00,453.12 L559.00,452.84 L560.00,453.31 L561.00,452.86 L562.00,453.03 L563.00,452.75 L564.00,452.95 L565.00,452.92 L566.00,453.24 L567.00,453.03 L568.00,452.97 L569.00,453.21 L570.00,452.85 L571.00,453.14 L572.00,452.91 L573.00,453.00 L574.00,453.32 L575.00,453.13 L576.00,452.89 L577.00,453.19 L578.00,453.05 L579.00,453.43 L580.00,452.87 L581.00,453.44 L582.00,452.88 L583.00,453.28 L584.00,453.13 L585.00,453.00 L586.00,452.99 L587.00,453.13 L588.00,452.89 L589.00,452.83 L590.00,452.95 L591.00,453.55 L592.00,453.38 L593.00,453.29 L594.00,452.79 L595.00,452.91 L596.00,453.45 L597.00,452.96 L598.00,453.36 L599.00,453.14 L600.00,453.32 L601.00,452.94 L602.00,453.32 L603.00,453.20 L604.00,453.10 L605.00,453.04 L606.00,453.27 L607.00,453.34 L608.00,453.17 L609.00,453.32 L610.00,453.34 L611.00,452.98 L612.00,453.16 L613.00,452.90 L614.00,453.17 L615.00,453.49 L616.00,453.41 L617.00,453.18 L618.00,453.06 L619.00,452.97 L620.00,453.21 L621.00,453.15 L622.00,453.23 L623.00,453.03 L624.00,453.29 L625.00,453.38 L626.00,453.32 L627.00,453.27 L628.00,453.07 L629.00,453.13 L630.00,453.40 L631.00,453.21 L632.00,453.58 L633.00,453.07 L634.00,453.61 L635.00,453.27 L636.00,453.38 L637.00,453.52 L638.00,453.32 L639.00,453.16 L640.00,453.53 L641.00,453.40 L642.00,453.58 L643.00,453.15 L644.00,453.30 L645.00,453.43 L646.00,453.40 L647.00,453.09 L648.00,453.16 L649.00,453.36 L650.00,453.20 L651.00,453.56 L652.00,453.23 L653.00,453.42 L654.00,453.20 L655.00,453.63 L656.00,453.51 L657.00,453.63 L658.00,453.29 L659.00,453.66 L660.00,453.31 L661.00,453.72 L662.00,453.14 L663.00,453.58 L664.00,453.78 L665.00,453.47 L666.00,453.36 L667.00,453.54 L668.00,453.38 L669.00,453.31 L670.00,453.81 L671.00,453.43 L672.00,453.36 L673.00,453.24 L674.00,453.34 L675.00,453.66 L676.00,453.38 L677.00,453.18 L678.00,453.76 L679.00,453.22 L680.00,453.18 L681.00,453.53 L682.00,453.44 L683.00,451.91 L684.00,450.60 L685.00,449.45 L686.00,449.68 L687.00,449.66 L688.00,449.30 L689.00,449.40 L690.00,449.61 L691.00,449.57 L692.00,449.35 L693.00,449.25 L694.00,449.36 L695.00,449.41 L696.00,449.60 L697.00,449.77 L698.00,449.20 L699.00,449.51 L700.00,449.70 L701.00,449.31 L702.00,449.54 L703.00,449.70 L704.00,449.52 L705.00,449.33 L706.00,449.55 L707.00,449.40 L708.00,449.44 L709.00,449.79 L710.00,449.48 L711.00,449.23 L712.00,449.20 L713.00,449.27 L714.00,449.38 L715.00,449.57 L716.00,449.52 L717.00,449.53 L718.00,449.71 L719.00,449.65 L720.00,449.01 L721.00,449.52 L722.00,449.51 L723.00,449.57 L724.00,449.37 L725.00,449.40 L726.00,449.50 L727.00,449.25 L728.00,449.27 L729.00,449.14 L730.00,449.18 L731.00,449.24 L732.00,449.02 L733.00,448.97 L734.00,449.54 L735.00,449.55 L736.00,449.60 L737.00,449.37 L738.00,449.50 L738.00,449.49 L738.00,455.00 L74.00,455.00 Z" fill="#a7c4f5" />
<path d="M74.00,446.51 L75.00,446.94 L76.00,446.84 L77.00,447.17 L78.00,447.36 L79.00,447.04 L80.00,447.21 L81.00,447.41 L82.00,447.20 L83.00,447.11 L84.00,447.56 L85.00,447.75 L86.00,447.72 L87.00,447.72 L88.00,447.90 L89.00,447.82 L90.00,447.85 L91.00,447.75 L92.00,447.70 L93.00,448.01 L94.00,447.64 L95.00,447.96 L96.00,448.31 L97.00,448.40 L98.00,448.52 L99.00,448.40 L100.00,448.73 L101.00,448.94 L102.00,449.26 L103.00,449.27 L104.00,449.67 L105.00,450.06 L106.00,449.65 L107.00,450.21 L108.00,450.50 L109.00,450.37 L110.00,450.64 L111.00,451.21 L112.00,450.65 L113.00,451.24 L114.00,451.12 L115.00,451.80 L116.00,452.11 L117.00,451.96 L118.00,451.70 L119.00,452.12 L120.00,452.12 L121.00,452.30 L122.00,452.16 L123.00,452.30 L124.00,452.48 L125.00,452.27 L126.00,452.21 L127.00,452.68 L128.00,452.12 L129.00,452.53 L130.00,452.33 L131.00,452.66 L132.00,452.18 L133.00,452.90 L134.00,452.43 L135.00,452.23 L136.00,452.44 L137.00,452.57 L138.00,452.29 L139.00,452.65 L140.00,452.68 L141.00,452.94 L142.00,452.70 L143.00,452.66 L144.00,452.66 L145.00,453.11 L146.00,453.30 L147.00,453.00 L148.00,452.79 L149.00,453.29 L150.00,452.99 L151.00,452.88 L152.00,452.85 L153.00,453.40 L154.00,453.46 L155.00,453.35 L156.00,453.25 L157.00,453.36 L158.00,453.12 L159.00,453.74 L160.00,453.29 L161.00,453.55 L162.00,453.73 L163.00,453.76 L164.00,453.51 L165.00,453.41 L166.00,453.64 L167.00,453.34 L168.00,453.94 L169.00,453.59 L170.00,454.02 L171.00,453.58 L172.00,453.70 L173.00,453.64 L174.00,453.81 L175.00,453.65 L176.00,453.50 L177.00,454.08 L178.00,453.73 L179.00,453.70 L180.00,453.75 L181.00,453.89 L182.00,453.85 L183.00,454.02 L184.00,454.03 L185.00,453.80 L186.00,454.25 L187.00,454.19 L188.00,453.56 L189.00,454.17 L190.00,454.24 L191.00,454.14 L192.00,453.63 L193.00,454.18 L194.00,454.02 L195.00,453.53 L196.00,453.53 L197.00,454.28 L198.00,454.04 L199.00,453.72 L200.00,453.60 L201.00,453.63 L202.00,453.71 L203.00,454.14 L204.00,453.80 L205.00,453.65 L206.00,454.25 L207.00,454.16 L208.00,453.66 L209.00,454.24 L210.00,454.01 L211.00,454.15 L212.00,454.06 L213.00,454.25 L214.00,454.16 L215.00,454.20 L216.00,453.69 L217.00,454.09 L218.00,453.96 L219.00,454.13 L220.00,453.89 L221.00,454.24 L222.00,453.98 L223.00,453.75 L224.00,453.73 L225.00,453.65 L226.00,453.94 L227.00,453.59 L228.00,453.92 L229.00,453.66 L230.00,453.94 L231.00,453.94 L232.00,453.98 L233.00,454.24 L234.00,453.55 L235.00,454.22 L236.00,453.92 L237.00,454.00 L238.00,454.08 L239.00,454.22 L240.00,453.85 L241.00,453.89 L242.00,454.32 L243.00,453.61 L244.00,454.06 L245.00,454.06 L246.00,453.58 L247.00,454.05 L248.00,454.10 L249.00,454.30 L250.00,453.82 L251.00,454.35 L252.00,453.97 L253.00,453.95 L254.00,454.28 L255.00,453.59 L256.00,454.14 L257.00,454.07 L258.00,453.84 L259.00,454.26 L260.00,453.86 L261.00,453.95 L262.00,453.99 L263.00,454.19 L264.00,453.74 L265.00,453.92 L266.00,453.91 L267.00,454.02 L268.00,454.24 L269.00,453.81 L270.00,454.24 L271.00,453.90 L272.00,453.98 L273.00,453.80 L274.00,453.98 L275.00,454.36 L276.00,454.10 L277.00,454.22 L278.00,453.85 L279.00,453.84 L280.00,453.82 L281.00,454.05 L282.00,454.09 L283.00,454.21 L284.00,453.62 L285.00,454.17 L286.00,454.30 L287.00,454.03 L288.00,453.63 L289.00,453.83 L290.00,453.60 L291.00,453.74 L292.00,454.33 L293.00,454.08 L294.00,454.12 L295.00,454.23 L296.00,454.32 L297.00,454.09 L298.00,454.09 L299.00,454.10 L300.00,454.16 L301.00,454.08 L302.00,454.15 L303.00,453.77 L304.00,454.14 L305.00,453.97 L306.00,454.21 L307.00,453.68 L308.00,453.75 L309.00,453.63 L310.00,454.22 L311.00,454.34 L312.00,454.13 L313.00,453.90 L314.00,454.26 L315.00,454.24 L316.00,454.06 L317.00,453.81 L318.00,453.85 L319.00,453.95 L320.00,453.86 L321.00,453.95 L322.00,454.12 L323.00,454.36 L324.00,453.66 L325.00,454.07 L326.00,453.64 L327.00,453.71 L328.00,454.26 L329.00,454.07 L330.00,454.35 L331.00,453.97 L332.00,453.63 L333.00,453.93 L334.00,454.09 L335.00,454.37 L336.00,454.40 L337.00,454.00 L338.00,453.95 L339.00,453.70 L340.00,454.13 L341.00,453.79 L342.00,453.74 L343.00,453.63 L344.00,453.62 L345.00,454.17 L346.00,453.72 L347.00,454.40 L348.00,453.69 L349.00,454.32 L350.00,453.73 L351.00,453.64 L352.00,454.20 L353.00,453.82 L354.00,454.21 L355.00,453.78 L356.00,453.67 L357.00,454.25 L358.00,454.20 L359.00,454.31 L360.00,454.21 L361.00,453.70 L362.00,454.13 L363.00,454.20 L364.00,454.00 L365.00,454.38 L366.00,453.83 L367.00,454.40 L368.00,454.21 L369.00,453.64 L370.00,453.65 L371.00,454.15 L372.00,454.29 L373.00,453.70 L374.00,453.88 L375.00,454.22 L376.00,453.77 L377.00,454.33 L378.00,454.03 L379.00,453.69 L380.00,453.93 L381.00,454.10 L382.00,453.99 L383.00,454.18 L384.00,453.76 L385.00,454.28 L386.00,453.93 L387.00,454.16 L388.00,454.15 L389.00,453.98 L390.00,453.95 L391.00,454.27 L392.00,454.40 L393.00,454.27 L394.00,454.10 L395.00,453.88 L396.00,453.69 L397.00,454.43 L398.00,454.21 L399.00,454.31 L400.00,453.91 L401.00,454.13 L402.00,454.43 L403.00,454.31 L404.00,454.13 L405.00,453.90 L406.00,453.99 L407.00,454.36 L408.00,453.95 L409.00,454.20 L410.00,454.13 L411.00,454.37 L412.00,454.30 L413.00,453.88 L414.00,453.66 L415.00,453.87 L416.00,453.99 L417.00,454.13 L418.00,454.31 L419.00,454.37 L420.00,453.69 L421.00,454.32 L422.00,454.31 L423.00,454.35 L424.00,454.12 L425.00,453.88 L426.00,454.34 L427.00,454.31 L428.00,454.21 L429.00,454.39 L430.00,453.94 L431.00,453.73 L432.00,454.11 L433.00,454.30 L434.00,453.82 L435.00,454.26 L436.00,454.41 L437.00,453.85 L438.00,454.15 L439.00,454.21 L440.00,454.04 L441.00,453.83 L442.00,453.87 L443.00,454.27 L444.00,454.30 L445.00,454.04 L446.00,453.74 L447.00,454.32 L448.00,454.29 L449.00,453.86 L450.00,454.14 L451.00,454.39 L452.00,454.38 L453.00,454.09 L454.00,454.05 L455.00,454.15 L456.00,453.83 L457.00,453.83 L458.00,453.82 L459.00,454.24 L460.00,453.97 L461.00,454.13 L462.00,454.00 L463.00,454.09 L464.00,453.80 L465.00,453.71 L466.00,454.48 L467.00,453.98 L468.00,453.76 L469.00,454.19 L470.00,454.31 L471.00,453.81 L472.00,454.16 L473.00,453.96 L474.00,454.10 L475.00,453.70 L476.00,453.71 L477.00,454.48 L478.00,454.38 L479.00,454.07 L480.00,454.14 L481.00,453.90 L482.00,454.31 L483.00,454.03 L484.00,454.44 L485.00,454.30 L486.00,454.34 L487.00,454.46 L488.00,453.89 L489.00,453.72 L490.00,453.85 L491.00,453.84 L492.00,453.76 L493.00,453.73 L494.00,454.14 L495.00,454.39 L496.00,454.06 L497.00,454.45 L498.00,454.42 L499.00,453.75 L500.00,454.17 L501.00,454.01 L502.00,453.79 L503.00,454.46 L504.00,453.90 L505.00,454.15 L506.00,454.21 L507.00,454.46 L508.00,454.23 L509.00,454.01 L510.00,454.06 L511.00,453.83 L512.00,454.48 L513.00,454.50 L514.00,453.88 L515.00,453.74 L516.00,453.91 L517.00,453.99 L518.00,454.43 L519.00,454.44 L520.00,454.38 L521.00,453.75 L522.00,454.35 L523.00,454.29 L524.00,454.24 L525.00,454.51 L526.00,453.77 L527.00,453.84 L528.00,454.33 L529.00,454.48 L530.00,454.27 L531.00,453.97 L532.00,454.21 L533.00,454.34 L534.00,453.82 L535.00,454.00 L536.00,453.94 L537.00,453.84 L538.00,454.13 L539.00,453.88 L540.00,453.94 L541.00,453.86 L542.00,454.29 L543.00,453.76 L544.00,454.32 L545.00,453.91 L546.00,453.78 L547.00,454.50 L548.00,453.93 L549.00,454.51 L550.00,454.45 L551.00,454.47 L552.00,453.87 L553.00,454.12 L554.00,453.84 L555.00,454.51 L556.00,454.44 L557.00,454.27 L558.00,454.13 L559.00,454.04 L560.00,454.43 L561.00,454.16 L562.00,454.28 L563.00,453.89 L564.00,453.96 L565.00,453.83 L566.00,454.35 L567.00,454.23 L568.00,453.90 L569.00,454.48 L570.00,454.00 L571.00,454.12 L572.00,453.92 L573.00,454.01 L574.00,454.47 L575.00,454.06 L576.00,453.93 L577.00,454.19 L578.00,454.06 L579.00,454.53 L580.00,453.90 L581.00,454.59 L582.00,453.85 L583.00,454.52 L584.00,454.34 L585.00,453.98 L586.00,454.19 L587.00,454.04 L588.00,454.02 L589.00,453.98 L590.00,454.11 L591.00,454.61 L592.00,454.62 L593.00,454.56 L594.00,453.90 L595.00,454.06 L596.00,454.54 L597.00,453.88 L598.00,454.41 L599.00,454.07 L600.00,454.62 L601.00,453.85 L602.00,454.48 L603.00,454.11 L604.00,453.95 L605.00,453.84 L606.00,454.51 L607.00,454.27 L608.00,453.99 L609.00,454.20 L610.00,454.58 L611.00,454.02 L612.00,454.31 L613.00,453.96 L614.00,454.00 L615.00,454.47 L616.00,454.43 L617.00,454.02 L618.00,453.92 L619.00,453.93 L620.00,454.35 L621.00,454.26 L622.00,454.09 L623.00,454.03 L624.00,454.36 L625.00,454.44 L626.00,454.52 L627.00,454.34 L628.00,454.04 L629.00,453.93 L630.00,454.46 L631.00,454.21 L632.00,454.46 L633.00,453.93 L634.00,454.53 L635.00,454.15 L636.00,454.56 L637.00,454.58 L638.00,454.28 L639.00,453.90 L640.00,454.62 L641.00,454.28 L642.00,454.59 L643.00,454.11 L644.00,454.05 L645.00,454.57 L646.00,454.19 L647.00,454.03 L648.00,454.20 L649.00,454.38 L650.00,453.90 L651.00,454.32 L652.00,454.26 L653.00,454.31 L654.00,454.00 L655.00,454.47 L656.00,454.55 L657.00,454.59 L658.00,454.16 L659.00,454.47 L660.00,454.21 L661.00,454.50 L662.00,453.95 L663.00,454.60 L664.00,454.66 L665.00,454.30 L666.00,454.31 L667.00,454.32 L668.00,454.33 L669.00,453.92 L670.00,454.67 L671.00,454.08 L672.00,454.05 L673.00,453.98 L674.00,454.10 L675.00,454.55 L676.00,453.92 L677.00,453.98 L678.00,454.46 L679.00,454.06 L680.00,453.91 L681.00,454.38 L682.00,454.11 L683.00,452.83 L684.00,451.73 L685.00,450.38 L686.00,451.00 L687.00,450.87 L688.00,450.34 L689.00,450.40 L690.00,450.69 L691.00,450.70 L692.00,450.52 L693.00,450.40 L694.00,450.62 L695.00,450.41 L696.00,450.77 L697.00,450.99 L698.00,450.42 L699.00,450.76 L700.00,450.90 L701.00,450.43 L702.00,450.96 L703.00,451.05 L704.00,450.61 L705.00,450.64 L706.00,450.97 L707.00,450.72 L708.00,450.62 L709.00,451.05 L710.00,450.92 L711.00,450.57 L712.00,450.49 L713.00,450.57 L714.00,450.65 L715.00,451.08 L716.00,450.94 L717.00,451.03 L718.00,450.95 L719.00,450.98 L720.00,450.34 L721.00,450.71 L722.00,451.07 L723.00,451.05 L724.00,450.50 L725.00,450.64 L726.00,450.81 L727.00,450.59 L728.00,450.72 L729.00,450.36 L730.00,450.65 L731.00,450.70 L732.00,450.32 L733.00,450.41 L734.00,451.08 L735.00,450.92 L736.00,451.05 L737.00,450.81 L738.00,450.95 L738.00,451.01 L738.00,455.00 L74.00,455.00 Z" fill="#d8e4fa" />
<rect x="644.6" y="418" width="93.39999999999998" height="37" fill="rgba(102,133,194,0.14)"/>
<rect x="641.6999999999999" y="428.6" width="5.4" height="14.8" rx="1.2" fill="#f4f4f4" stroke="#999" stroke-width="0.8"/>
<rect x="734.8" y="428.6" width="5.4" height="14.8" rx="1.2" fill="#f4f4f4" stroke="#999" stroke-width="0.8"/>
<rect x="63.3" y="455.1" width="10.5" height="10.7" rx="1" fill="#d5d6de"/>
<path d="M70.0,458.8 L67.6,461.0 L70.0,463.2 Z" fill="#444"/>
<rect x="645.2" y="455.1" width="93" height="10.6" rx="1.5" fill="#d0d1d9"/>
<rect x="738" y="455.1" width="10.3" height="10.7" rx="1" fill="#d5d6de"/>
<path d="M742.4,458.8 L744.8,461.0 L742.4,463.2 Z" fill="#444"/>
<text x="89.7" y="463.0" font-size="8.4" fill="#929298" stroke="#929298" stroke-width="0.151" font-weight="400" text-anchor="start" >Jan '22</text>
<text x="223" y="463.0" font-size="8.4" fill="#929298" stroke="#929298" stroke-width="0.151" font-weight="400" text-anchor="start" >Jul '24</text>
<text x="388.5" y="463.0" font-size="8.4" fill="#929298" stroke="#929298" stroke-width="0.151" font-weight="400" text-anchor="start" >Jan '25</text>
<text x="573.6" y="463.0" font-size="8.4" fill="#929298" stroke="#929298" stroke-width="0.151" font-weight="400" text-anchor="start" >Jul '25</text>
</svg></body></html>
